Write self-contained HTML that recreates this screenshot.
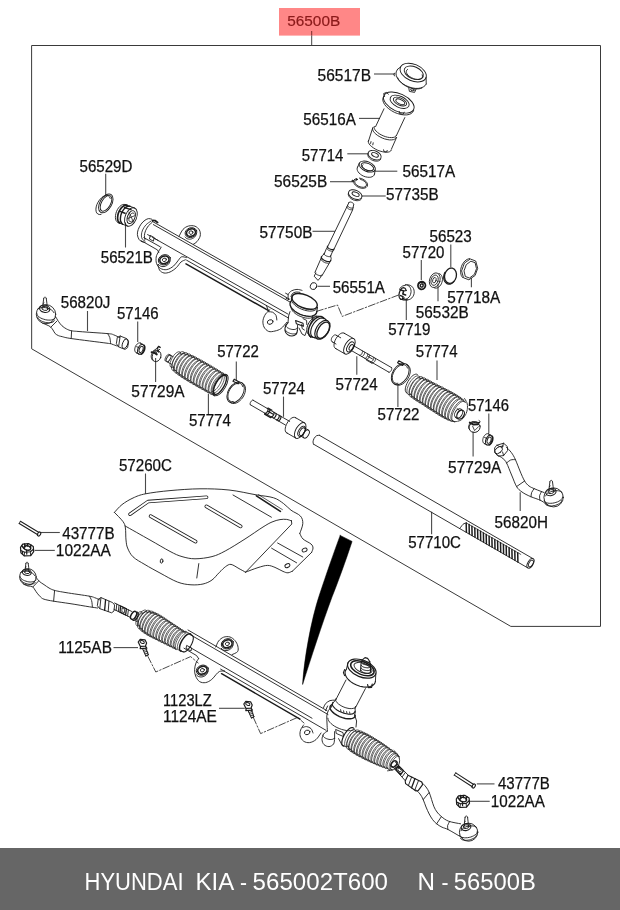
<!DOCTYPE html>
<html lang="en">
<head>
<meta charset="utf-8">
<title>HYUNDAI KIA - 565002T600 N - 56500B</title>
<style>
html,body{margin:0;padding:0;background:#fff;}
body{width:620px;height:910px;overflow:hidden;position:relative;font-family:"Liberation Sans",sans-serif;}
#dia{position:absolute;left:0;top:0;width:620px;height:910px;display:block;will-change:transform;}
#dia .ln{fill:none;stroke:#1c1c1c;stroke-width:0.9;stroke-linecap:round;stroke-linejoin:round;}
#dia .lb{font-family:"Liberation Sans",sans-serif;font-size:15.8px;fill:#111;stroke:#111;stroke-width:0.25;}
#dia .ld{fill:none;stroke:#333;stroke-width:1;}
</style>
</head>
<body>
<svg id="dia" width="620" height="910" viewBox="0 0 620 910">
<rect x="0" y="0" width="620" height="910" fill="#fff"/>
<g class="ln">
<path d="M32 45.5 L600.5 45.5 L600.5 626.4 L510.8 626.4 L32 349Z" stroke-width="1" stroke="#3a3a3a"/>
<line x1="374" y1="74" x2="395.2" y2="74" stroke-width="1.1" stroke="#4a4a4a" stroke-linecap="butt"/>
<line x1="359" y1="118.4" x2="380" y2="118.4" stroke-width="1.1" stroke="#4a4a4a" stroke-linecap="butt"/>
<line x1="347.3" y1="153.8" x2="368.2" y2="153.8" stroke-width="1.1" stroke="#4a4a4a" stroke-linecap="butt"/>
<line x1="375" y1="171.2" x2="397.3" y2="171.2" stroke-width="1.1" stroke="#4a4a4a" stroke-linecap="butt"/>
<line x1="330" y1="181.7" x2="352" y2="181.7" stroke-width="1.1" stroke="#4a4a4a" stroke-linecap="butt"/>
<line x1="361.8" y1="196" x2="385.7" y2="196" stroke-width="1.1" stroke="#4a4a4a" stroke-linecap="butt"/>
<line x1="105.7" y1="173.7" x2="105.7" y2="195" stroke-width="1.1" stroke="#4a4a4a" stroke-linecap="butt"/>
<line x1="125.5" y1="222.5" x2="125.5" y2="247.5" stroke-width="1.1" stroke="#4a4a4a" stroke-linecap="butt"/>
<line x1="312.5" y1="231.3" x2="335" y2="231.3" stroke-width="1.1" stroke="#4a4a4a" stroke-linecap="butt"/>
<line x1="317.5" y1="286.3" x2="330" y2="286.3" stroke-width="1.1" stroke="#4a4a4a" stroke-linecap="butt"/>
<line x1="421.3" y1="260" x2="421.3" y2="280" stroke-width="1.1" stroke="#4a4a4a" stroke-linecap="butt"/>
<line x1="450.8" y1="244.5" x2="450.8" y2="267.5" stroke-width="1.1" stroke="#4a4a4a" stroke-linecap="butt"/>
<line x1="471.4" y1="278" x2="471.4" y2="287.3" stroke-width="1.1" stroke="#4a4a4a" stroke-linecap="butt"/>
<line x1="438" y1="283.8" x2="438" y2="301.3" stroke-width="1.1" stroke="#4a4a4a" stroke-linecap="butt"/>
<line x1="406.3" y1="298.8" x2="406.3" y2="320" stroke-width="1.1" stroke="#4a4a4a" stroke-linecap="butt"/>
<line x1="437" y1="360.4" x2="437" y2="380" stroke-width="1.1" stroke="#4a4a4a" stroke-linecap="butt"/>
<line x1="87.5" y1="311" x2="87.5" y2="331" stroke-width="1.1" stroke="#4a4a4a" stroke-linecap="butt"/>
<line x1="137.7" y1="321.6" x2="137.7" y2="342" stroke-width="1.1" stroke="#4a4a4a" stroke-linecap="butt"/>
<line x1="155.6" y1="358" x2="155.6" y2="382" stroke-width="1.1" stroke="#4a4a4a" stroke-linecap="butt"/>
<line x1="236.3" y1="361.5" x2="236.3" y2="380" stroke-width="1.1" stroke="#4a4a4a" stroke-linecap="butt"/>
<line x1="208.4" y1="393.7" x2="208.4" y2="413.9" stroke-width="1.1" stroke="#4a4a4a" stroke-linecap="butt"/>
<line x1="283.5" y1="396.6" x2="283.5" y2="416.8" stroke-width="1.1" stroke="#4a4a4a" stroke-linecap="butt"/>
<line x1="356.8" y1="356.3" x2="356.8" y2="374.8" stroke-width="1.1" stroke="#4a4a4a" stroke-linecap="butt"/>
<line x1="397.9" y1="385.3" x2="397.9" y2="407" stroke-width="1.1" stroke="#4a4a4a" stroke-linecap="butt"/>
<line x1="488.8" y1="413.6" x2="488.8" y2="433.5" stroke-width="1.1" stroke="#4a4a4a" stroke-linecap="butt"/>
<line x1="473.1" y1="431.4" x2="473.1" y2="456.6" stroke-width="1.1" stroke="#4a4a4a" stroke-linecap="butt"/>
<line x1="520.2" y1="492.2" x2="520.2" y2="511.1" stroke-width="1.1" stroke="#4a4a4a" stroke-linecap="butt"/>
<line x1="431.6" y1="511.8" x2="431.6" y2="534.3" stroke-width="1.1" stroke="#4a4a4a" stroke-linecap="butt"/>
<line x1="145.5" y1="473.5" x2="145.5" y2="493.9" stroke-width="1.1" stroke="#4a4a4a" stroke-linecap="butt"/>
<line x1="40" y1="532.5" x2="59.8" y2="532.5" stroke-width="1.1" stroke="#4a4a4a" stroke-linecap="butt"/>
<line x1="34.6" y1="550.4" x2="54.8" y2="550.4" stroke-width="1.1" stroke="#4a4a4a" stroke-linecap="butt"/>
<line x1="113.5" y1="647.6" x2="138" y2="647.6" stroke-width="1.1" stroke="#4a4a4a" stroke-linecap="butt"/>
<line x1="219" y1="708.3" x2="244.8" y2="708.3" stroke-width="1.1" stroke="#4a4a4a" stroke-linecap="butt"/>
<line x1="476.8" y1="783.9" x2="494.5" y2="783.9" stroke-width="1.1" stroke="#4a4a4a" stroke-linecap="butt"/>
<line x1="467.7" y1="801.3" x2="489.7" y2="801.3" stroke-width="1.1" stroke="#4a4a4a" stroke-linecap="butt"/>
<path d="M340.2 535.4 L352.1 541.4 C346 560 338 582 332 597 C322 624 311 658 302.6 684.5 C304 660 311 620 319.4 595 C326 575 334 552 340.2 535.4Z" fill="#000" stroke="#000" stroke-width="0.5"/>
<ellipse cx="413.2" cy="72.6" rx="13.8" ry="8.3" transform="rotate(23 413.2 72.6)"/>
<ellipse cx="413.8" cy="72.8" rx="10.2" ry="6" transform="rotate(23 413.8 72.8)"/>
<path d="M422.2 74.8 L422.5 76.1 L422.4 77.3 L421.7 78.2 L420.6 78.9 L419.1 79.3 L417.3 79.4 L415.3 79.1 L413.3 78.5 L411.3 77.6 L409.6 76.5 L408.1 75.3 L407 73.9 L406.4 72.6 L406.3 71.3 L406.7 70.2 L407.6 69.4"/>
<path d="M426.2 84 L425 85.7 L423.2 87 L420.9 87.9 L418.2 88.4 L415.2 88.4 L412 87.9 L408.9 86.9 L405.8 85.6 L403 83.9 L400.5 81.9 L398.5 79.8 L397 77.5 L396.2 75.2 L396 73 L396.5 71.1 L397.6 69.3"/>
<path d="M421.9 88 L420.5 88.5 L419 88.8 L417.3 88.9 L415.5 88.9 L413.6 88.7 L411.7 88.3 L409.9 87.8 L408 87.1 L406.2 86.2 L404.5 85.2 L402.9 84.2 L401.5 83 L400.2 81.7 L399.2 80.4 L398.3 79 L397.7 77.7"/>
<line x1="400.6" y1="66.9" x2="397.6" y2="69.3"/>
<line x1="426.1" y1="77.3" x2="426.2" y2="84"/>
<path d="M408.8 88 L409.4 91.4 L414.6 92.4 L416 89.2"/>
<ellipse cx="412.4" cy="89.8" rx="1.8" ry="0.9" transform="rotate(10 412.4 89.8)"/>
<path d="M394.4 73.2 L393.8 74.6 L394.6 76"/>
<ellipse cx="398.8" cy="102.6" rx="16.4" ry="8.8" transform="rotate(25 398.8 102.6)"/>
<path d="M413.6 110.5 L412.8 112.1 L411.3 113.5 L409.3 114.4 L406.8 114.9 L404 114.9 L400.9 114.5 L397.7 113.6 L394.5 112.4 L391.5 110.7 L388.8 108.8 L386.4 106.7 L384.6 104.5 L383.4 102.3 L382.8 100.2 L382.9 98.2 L383.6 96.5"/>
<ellipse cx="399.6" cy="101.8" rx="10.2" ry="5.6" transform="rotate(25 399.6 101.8)"/>
<ellipse cx="400" cy="101.6" rx="7.2" ry="3.6" transform="rotate(25 400 101.6)"/>
<ellipse cx="400.3" cy="101.8" rx="4.8" ry="2.2" transform="rotate(25 400.3 101.8)"/>
<path d="M384.6 96.6 L383.6 93.6 L386.4 92.4 L388.4 94.2"/>
<path d="M399.2 111.4 L399.6 113.6 L403.2 114.2 L404.2 112.2"/>
<line x1="384" y1="108.8" x2="375.6" y2="126.6"/>
<line x1="404.8" y1="117.6" x2="396.4" y2="135.6"/>
<path d="M396.1 135.6 L395.5 136.5 L394.5 137.1 L393.1 137.5 L391.4 137.6 L389.5 137.5 L387.5 137.2 L385.3 136.6 L383.2 135.8 L381.1 134.8 L379.2 133.7 L377.5 132.4 L376.1 131.1 L375 129.8 L374.4 128.6 L374.2 127.4 L374.3 126.4"/>
<path d="M396.1 137.3 L395.7 138.3 L394.7 139.1 L393.3 139.7 L391.5 139.9 L389.4 139.9 L387.1 139.5 L384.6 138.9 L382.2 138 L379.9 136.8 L377.7 135.5 L375.9 134.1 L374.4 132.7 L373.3 131.2 L372.7 129.8 L372.6 128.5 L373 127.4"/>
<line x1="372.6" y1="128.2" x2="368.4" y2="141.4"/>
<line x1="396.6" y1="137.4" x2="391.4" y2="149.2"/>
<path d="M391.3 150.1 L390.7 151 L389.6 151.7 L388.2 152.1 L386.5 152.2 L384.5 152.1 L382.3 151.7 L380.1 151.1 L377.8 150.3 L375.6 149.2 L373.6 148 L371.8 146.7 L370.3 145.4 L369.2 144 L368.5 142.7 L368.3 141.5 L368.5 140.5"/>
<path d="M371 141.6 L370.6 143.4"/>
<path d="M373.2 142.8 L372.8 144.8"/>
<path d="M383.6 149.8 L384 151.6 L386.6 152 L387.2 150.4"/>
<ellipse cx="374.6" cy="155.2" rx="6.9" ry="4.3" transform="rotate(23 374.6 155.2)"/>
<path d="M380.8 159.1 L380.3 159.8 L379.6 160.4 L378.7 160.8 L377.7 161.1 L376.5 161.2 L375.3 161.1 L374 160.8 L372.7 160.4 L371.5 159.8 L370.4 159 L369.5 158.2 L368.7 157.3 L368.2 156.4 L367.9 155.4 L367.8 154.5 L368 153.7"/>
<ellipse cx="375" cy="154.8" rx="3.6" ry="1.9" transform="rotate(23 375 154.8)"/>
<ellipse cx="367.2" cy="166.6" rx="8.6" ry="4.8" transform="rotate(23 367.2 166.6)"/>
<ellipse cx="367.4" cy="166.8" rx="6.6" ry="3.4" transform="rotate(23 367.4 166.8)"/>
<path d="M372.8 169.8 L372.4 170.3 L371.8 170.6 L371.1 170.8 L370.1 170.8 L369.1 170.7 L368 170.5 L366.8 170.1 L365.7 169.6 L364.7 169 L363.8 168.3 L363.1 167.6 L362.6 166.9 L362.4 166.2 L362.4 165.6 L362.6 165.1 L363.1 164.7"/>
<path d="M374.5 174.1 L374.1 175.2 L373.3 176.1 L372.2 176.7 L370.8 177.2 L369.2 177.3 L367.4 177.2 L365.5 176.8 L363.7 176.2 L361.9 175.3 L360.4 174.2 L359 173 L358 171.7 L357.4 170.4 L357.1 169.2 L357.2 168 L357.7 166.9"/>
<line x1="359.3" y1="163.2" x2="357.7" y2="166.9"/>
<line x1="375.1" y1="170" x2="374.5" y2="174.1"/>
<path d="M359.4 178.1 L361.8 178.7 L364.1 179.9 L366 181.4 L367.2 183.1 L367.6 184.9 L367.2 186.4 L366 187.6 L364.1 188.2 L361.8 188.3 L359.4 187.7 L357.1 186.5 L355.2 185 L354 183.3 L353.6 181.5 L354 180 L355.2 178.8"/>
<path d="M360.5 179.4 L362.4 180.1 L364.1 181.1 L365.4 182.3 L366.2 183.6 L366.5 184.9 L366.1 186 L365.1 186.8 L363.6 187.3 L361.9 187.2 L360 186.8 L358.1 186 L356.5 184.9 L355.4 183.6 L354.8 182.2 L354.8 181 L355.5 180"/>
<ellipse cx="356.6" cy="179.4" rx="0.8" ry="0.8" fill="#222"/>
<ellipse cx="352.6" cy="181" rx="0.8" ry="0.8" fill="#222"/>
<ellipse cx="355.2" cy="194.6" rx="7.1" ry="4.4" transform="rotate(23 355.2 194.6)"/>
<path d="M361.5 198.6 L361.1 199.3 L360.4 199.9 L359.5 200.4 L358.4 200.6 L357.2 200.7 L355.9 200.6 L354.6 200.3 L353.3 199.9 L352 199.2 L350.9 198.5 L349.9 197.6 L349.2 196.7 L348.6 195.7 L348.3 194.8 L348.3 193.9 L348.5 193"/>
<ellipse cx="355.6" cy="194.2" rx="3.8" ry="1.9" transform="rotate(23 355.6 194.2)"/>
<path d="M349 202.4 L347 206.6 L327.4 247.2"/>
<path d="M353.6 205 L352.6 210 L334 249.2"/>
<path d="M348.9 202.6 L349.1 202.4 L349.3 202.2 L349.6 202.1 L350 202 L350.4 202 L350.9 202.1 L351.3 202.2 L351.8 202.4 L352.3 202.6 L352.7 202.9 L353.1 203.2 L353.4 203.5 L353.6 203.8 L353.7 204.1 L353.7 204.4 L353.7 204.6"/>
<path d="M352.7 209.2 L352.5 209.4 L352.2 209.6 L351.9 209.7 L351.4 209.8 L350.9 209.7 L350.4 209.7 L349.8 209.5 L349.3 209.3 L348.7 209 L348.2 208.7 L347.8 208.4 L347.4 208.1 L347.1 207.7 L347 207.4 L346.9 207.1 L346.9 206.8"/>
<path d="M353.2 207.6 L353 207.8 L352.7 208 L352.4 208.1 L352 208.1 L351.5 208.1 L351 208 L350.4 207.9 L349.9 207.7 L349.3 207.4 L348.8 207.1 L348.4 206.8 L348.1 206.5 L347.8 206.1 L347.6 205.8 L347.6 205.5 L347.6 205.2"/>
<path d="M334.1 248.9 L333.9 249.2 L333.6 249.4 L333.2 249.6 L332.7 249.6 L332.1 249.6 L331.5 249.5 L330.8 249.3 L330.1 249.1 L329.4 248.8 L328.8 248.4 L328.3 248 L327.8 247.6 L327.5 247.1 L327.4 246.7 L327.3 246.4 L327.5 246.1" stroke-width="1.1"/>
<path d="M333.6 250.5 L333.4 250.8 L333.1 251 L332.7 251.2 L332.2 251.2 L331.6 251.2 L331 251.1 L330.3 250.9 L329.6 250.7 L328.9 250.4 L328.3 250 L327.8 249.6 L327.3 249.2 L327 248.7 L326.9 248.3 L326.8 248 L327 247.7"/>
<path d="M326.4 248.6 L324.2 254"/>
<path d="M333 250.6 L330.6 256"/>
<path d="M330.7 255.9 L330.5 256.2 L330.2 256.4 L329.8 256.6 L329.3 256.6 L328.7 256.6 L328.1 256.5 L327.4 256.3 L326.7 256.1 L326 255.8 L325.4 255.4 L324.9 255 L324.4 254.6 L324.1 254.1 L324 253.7 L323.9 253.4 L324.1 253.1"/>
<path d="M324.2 254 L322.2 255.6 L321.4 257.6"/>
<path d="M330.6 256 L331.2 258.6 L330.6 261"/>
<path d="M330.7 260.6 L330.5 261 L330.1 261.3 L329.5 261.5 L328.8 261.5 L328 261.5 L327.1 261.4 L326.1 261.1 L325.2 260.7 L324.2 260.3 L323.4 259.8 L322.7 259.2 L322.1 258.7 L321.6 258.1 L321.4 257.6 L321.3 257.1 L321.5 256.7" stroke-width="1.2"/>
<path d="M329.7 262.2 L329.5 262.6 L329.2 262.9 L328.6 263.1 L328 263.2 L327.2 263.1 L326.4 263 L325.5 262.8 L324.6 262.4 L323.8 262 L323 261.6 L322.3 261 L321.8 260.5 L321.4 260 L321.1 259.5 L321.1 259 L321.2 258.6"/>
<path d="M321.4 257.6 L315.2 271.8"/>
<path d="M329.6 262.6 L321.8 276"/>
<path d="M321.9 274.9 L321.8 275.2 L321.5 275.4 L321.1 275.6 L320.6 275.7 L320 275.6 L319.3 275.5 L318.6 275.3 L317.9 275.1 L317.2 274.7 L316.6 274.4 L316 274 L315.6 273.5 L315.3 273.1 L315.1 272.7 L315 272.3 L315.2 272"/>
<path d="M315.8 273 L314.2 276.2 L318 280.4 L320.6 277.4 L321 275.6"/>
<ellipse cx="313.5" cy="286.1" rx="3.1" ry="3.5" transform="rotate(20 313.5 286.1)"/>
<ellipse cx="105.8" cy="203.4" rx="5.9" ry="10.3" transform="rotate(30 105.8 203.4)"/>
<ellipse cx="106" cy="203.3" rx="4.5" ry="8.7" transform="rotate(30 106 203.3)"/>
<path d="M101 214.4 L99.3 214.5 L97.8 214 L96.7 212.9 L96.1 211.3 L95.9 209.2 L96.2 206.9 L96.9 204.5 L98.1 202.1 L99.6 199.8 L101.3 198 L103.2 196.5 L105.1 195.7 L106.8 195.4 L108.3 195.8 L109.5 196.8 L110.2 198.4"/>
<ellipse cx="130.9" cy="217" rx="5.7" ry="9.7" transform="rotate(22 130.9 217)"/>
<ellipse cx="131.2" cy="217.1" rx="3.7" ry="6.8" transform="rotate(22 131.2 217.1)"/>
<path d="M131.2 221.4 L130.5 221.6 L129.9 221.6 L129.4 221.2 L129 220.6 L128.9 219.7 L128.9 218.7 L129.1 217.6 L129.5 216.4 L130 215.4 L130.6 214.4 L131.3 213.7 L132 213.2 L132.7 213 L133.3 213 L133.8 213.4 L134.2 214"/>
<line x1="129" y1="212" x2="133.4" y2="222" stroke-width="0.8"/>
<line x1="127.6" y1="218.6" x2="135" y2="215.6" stroke-width="0.8"/>
<path d="M119.1 222.8 L117.9 222.5 L116.9 221.7 L116.1 220.6 L115.6 219.1 L115.4 217.4 L115.5 215.5 L115.9 213.5 L116.5 211.5 L117.4 209.6 L118.5 207.9 L119.8 206.4 L121.2 205.3 L122.6 204.6 L123.9 204.4 L125.2 204.5 L126.3 205.1"/>
<path d="M119.9 223.2 L119.1 222.5 L118.4 221.5 L117.9 220.3 L117.6 218.9 L117.6 217.3 L117.8 215.7 L118.1 214 L118.7 212.3 L119.5 210.6 L120.4 209.2 L121.4 207.8 L122.6 206.7 L123.7 205.9 L124.9 205.4 L126.1 205.2 L127.2 205.3" stroke-width="1.7"/>
<path d="M122.7 224.2 L121.9 223.5 L121.2 222.5 L120.7 221.3 L120.4 219.9 L120.4 218.3 L120.6 216.7 L120.9 215 L121.5 213.3 L122.3 211.6 L123.2 210.2 L124.2 208.8 L125.4 207.7 L126.5 206.9 L127.7 206.4 L128.9 206.2 L130 206.3" stroke-width="1.4"/>
<line x1="134.5" y1="208" x2="125.4" y2="204.6"/>
<line x1="127.3" y1="226" x2="118.2" y2="222.6"/>
<line x1="124.6" y1="207.6" x2="131" y2="209.6" stroke-width="1.5"/>
<line x1="120.6" y1="211.6" x2="125" y2="213.2" stroke-width="1.5"/>
<path d="M151.6 219.2 C151.1 219.1 149.7 218.4 148.6 218.6 C147.5 218.8 146.3 219.3 145 220.2 C143.7 221.1 142.1 222.6 141 224.2 C139.9 225.8 138.8 227.9 138.2 229.6 C137.6 231.3 137.3 233 137.4 234.6 C137.5 236.2 138.2 238.2 139 239.4 C139.8 240.6 141 241.3 142 241.8 C143 242.3 144.5 242.1 145 242.2"/>
<path d="M150.8 221.2 C150 221.8 147.4 223.3 146 224.8 C144.6 226.3 143.4 228.3 142.6 230 C141.8 231.7 141.5 233.5 141.4 235 C141.3 236.5 141.6 238 142.2 239 C142.8 240 144.5 240.7 145 241" stroke-width="0.8"/>
<path d="M152.2 222.4 C151.6 223 149.5 224.4 148.4 225.8 C147.3 227.2 146.3 229 145.6 230.6 C144.9 232.2 144.5 234.1 144.4 235.6 C144.3 237.1 144.9 238.9 145 239.6"/>
<path d="M152.6 220.4 L155 220.6 L157.6 222.4" stroke-width="1.8"/>
<line x1="152" y1="221.2" x2="289.6" y2="299.2"/>
<line x1="153.4" y1="224.6" x2="291" y2="302.6"/>
<line x1="152" y1="237" x2="288" y2="314.1"/>
<line x1="186.6" y1="260.2" x2="288.6" y2="318.1"/>
<line x1="186" y1="263.9" x2="268.6" y2="310.7" stroke-width="1.5"/>
<path d="M150.6 235.6 L154.2 237.6 L153.4 241.2 L149.8 239.2Z"/>
<line x1="147.6" y1="234.6" x2="150.6" y2="236.2"/>
<line x1="154.2" y1="238.2" x2="158" y2="240.4"/>
<path d="M141 240.6 L146 243.4 L157.6 250 L158.8 252.6"/>
<path d="M143.8 237.6 L156 244.4 L160.2 246.8"/>
<path d="M179 236.4 C179.7 235.2 181.4 231.1 183 229.4 C184.6 227.7 186.6 226.5 188.6 226 C190.6 225.5 193.2 225.5 195 226.2 C196.8 226.9 198.5 228.4 199.4 230 C200.3 231.6 200.6 234.1 200.2 236 C199.8 237.9 198.1 240.2 197 241.6 C195.9 243 194 243.8 193.4 244.2"/>
<ellipse cx="191" cy="232.6" rx="6" ry="4.8" transform="rotate(-20 191 232.6)"/>
<ellipse cx="191" cy="232.6" rx="4.6" ry="3.6" transform="rotate(-20 191 232.6)" stroke-width="1.6"/>
<ellipse cx="191" cy="232.6" rx="2" ry="1.7" transform="rotate(-20 191 232.6)"/>
<path d="M196.3 233.8 L196.1 234.6 L195.8 235.4 L195.4 236.2 L194.8 236.9 L194.1 237.5 L193.3 238.1 L192.5 238.5 L191.5 238.9 L190.6 239.1 L189.6 239.2 L188.7 239.1 L187.8 238.9 L187 238.6 L186.2 238.2 L185.6 237.6 L185.1 237"/>
<path d="M161.2 247.2 C160.8 247.9 159.4 250 158.6 251.6 C157.8 253.2 156.5 255 156.2 257 C155.9 259 155.9 261.7 156.6 263.6 C157.3 265.5 158.7 267.4 160.4 268.4 C162.1 269.4 164.6 270 166.8 269.6 C169 269.2 171.7 267.6 173.6 266 C175.5 264.4 177.1 261.7 178.4 260.2 C179.7 258.7 180.3 257.2 181.6 256.8 C182.9 256.4 185.6 257.5 186.4 257.6"/>
<ellipse cx="164.4" cy="259.8" rx="6.2" ry="5" transform="rotate(-20 164.4 259.8)"/>
<ellipse cx="164.4" cy="259.8" rx="4.7" ry="3.7" transform="rotate(-20 164.4 259.8)" stroke-width="1.6"/>
<ellipse cx="164.4" cy="259.8" rx="2" ry="1.7" transform="rotate(-20 164.4 259.8)"/>
<path d="M169.9 261 L169.7 261.9 L169.4 262.7 L169 263.5 L168.4 264.2 L167.7 264.9 L166.8 265.5 L165.9 265.9 L165 266.3 L164 266.5 L163 266.6 L162 266.5 L161.1 266.3 L160.3 266 L159.5 265.5 L158.9 265 L158.4 264.3"/>
<path d="M158 264.6 C158.3 265.5 158.6 268.8 159.6 270.2 C160.6 271.6 162.3 272.7 164 273 C165.7 273.3 167.9 272.9 170 272 C172.1 271.1 174.6 269.3 176.4 267.6 C178.2 265.9 179.5 263.3 181 262 C182.5 260.7 184.7 260.2 185.4 259.8"/>
<ellipse cx="304.6" cy="301.4" rx="13.4" ry="6.6" transform="rotate(22 304.6 301.4)" stroke-width="1.4"/>
<path d="M317.4 307.4 L316.8 308.7 L315.7 309.8 L314.1 310.6 L312.1 311 L309.7 311.1 L307.2 310.8 L304.5 310.2 L301.8 309.3 L299.2 308.1 L296.8 306.7 L294.8 305.1 L293.2 303.4 L292.1 301.7 L291.4 300 L291.4 298.4 L291.9 297.1"/>
<path d="M316.9 311.4 L316.5 313 L315.5 314.4 L313.9 315.5 L311.7 316.1 L309.1 316.3 L306.2 316 L303.2 315.4 L300.2 314.3 L297.3 312.9 L294.8 311.2 L292.7 309.3 L291.1 307.3 L290.2 305.4 L290 303.6 L290.4 301.9 L291.5 300.6" stroke-width="1.3"/>
<path d="M313.2 317.1 L312 317.6 L310.7 318 L309.2 318.2 L307.5 318.2 L305.7 318 L303.8 317.6 L302 317 L300.1 316.3 L298.3 315.5 L296.6 314.5 L295.1 313.4 L293.8 312.3 L292.7 311.1 L291.9 309.9 L291.4 308.7 L291.1 307.6" stroke-width="0.9"/>
<path d="M291.9 297.1 L291.5 300.6"/>
<path d="M317.4 307.4 L316.9 311.4"/>
<path d="M288.6 299.6 C288.5 298.8 287.7 296.1 288.2 294.6 C288.7 293.1 290.1 291.7 291.6 290.8 C293.1 289.9 295.3 289.5 297 289.4 C298.7 289.3 301.2 290.2 302 290.4"/>
<path d="M291 296.6 C291.2 296.1 291.6 294.4 292.4 293.6 C293.2 292.8 294.7 292.2 296 292 C297.3 291.8 299.3 292.3 300 292.4"/>
<path d="M288.6 299.6 L286 298.2"/>
<path d="M288.2 294.6 L285.6 293.2"/>
<path d="M290 311.6 L288.6 316 L288 322.6"/>
<path d="M312.6 316.2 L312 319"/>
<path d="M288 322.6 C287.6 323.2 286.1 324.7 285.6 326 C285.1 327.3 284.7 329.2 285 330.6 C285.3 332 286.4 333.7 287.6 334.6 C288.8 335.5 290.6 336 292 336 C293.4 336 295.1 335.3 296 334.4 C296.9 333.5 297.2 331.2 297.4 330.6" stroke-width="1.1"/>
<path d="M296.6 332.9 L296.2 333.3 L295.7 333.6 L295.1 333.8 L294.3 333.9 L293.4 333.9 L292.5 333.9 L291.5 333.7 L290.5 333.5 L289.6 333.2 L288.7 332.8 L287.8 332.4 L287.1 332 L286.5 331.5 L286 331 L285.7 330.4 L285.6 330"/>
<path d="M297.4 330.6 L297.6 325"/>
<path d="M297 328.1 L296.8 328.6 L296.3 328.9 L295.7 329.2 L294.9 329.4 L294 329.5 L292.9 329.5 L291.8 329.4 L290.7 329.1 L289.6 328.8 L288.6 328.3 L287.7 327.9 L287 327.3 L286.4 326.7 L286 326.2 L285.8 325.6 L285.8 325.1"/>
<path d="M295.6 320.6 L303 323.2 L303.4 326.2 L296.4 323.8Z" stroke-width="1.1"/>
<path d="M303 318.6 L306.6 320.4 L306.8 324.6"/>
<path d="M299 328 L302 334 L305 335.6 L306.4 331.6"/>
<path d="M301.6 324.6 L302.2 328.6 L304.4 330"/>
<ellipse cx="322.4" cy="329.8" rx="6.2" ry="10.4" transform="rotate(32 322.4 329.8)" stroke-width="1.2"/>
<ellipse cx="323.2" cy="330.2" rx="5" ry="9" transform="rotate(32 323.2 330.2)" stroke-width="1.3"/>
<path d="M315 337.7 L313.4 337.4 L312.1 336.6 L311.2 335.3 L310.7 333.5 L310.7 331.4 L311.1 329.1 L311.9 326.7 L313.2 324.4 L314.7 322.3 L316.5 320.5 L318.4 319.1 L320.3 318.2 L322.1 317.9 L323.7 318.1 L325 318.9 L325.9 320.2" stroke-width="1.1"/>
<path d="M312.2 337 L310.7 336.6 L309.6 335.6 L308.8 334.2 L308.4 332.3 L308.4 330.2 L308.9 327.9 L309.8 325.6 L311 323.3 L312.5 321.2 L314.3 319.4 L316.1 318 L318 317 L319.8 316.6 L321.4 316.6 L322.8 317.3 L323.9 318.4" stroke-width="1.5"/>
<path d="M308.5 334.5 L307.7 333.5 L307.2 332.4 L306.8 331 L306.8 329.4 L307 327.7 L307.5 325.9 L308.2 324.1 L309.2 322.4 L310.3 320.8 L311.6 319.4 L313 318.2 L314.4 317.2 L315.8 316.6 L317.2 316.2 L318.5 316.2 L319.7 316.5" stroke-width="1.0"/>
<line x1="327.9" y1="321" x2="322.6" y2="317.1"/>
<line x1="316.9" y1="338.6" x2="310.6" y2="336.5"/>
<path d="M316 315.6 L313 318.6 L310.6 324"/>
<path d="M309 335.6 L310.6 337.6"/>
<path d="M270 309.6 C269.3 310.3 266.8 312.2 265.6 314 C264.4 315.8 263.3 318.2 263 320.4 C262.7 322.6 263.1 325.2 264 327 C264.9 328.8 266.8 330.7 268.6 331.4 C270.4 332.1 272.9 331.5 275 331 C277.1 330.5 279.1 330 281 328.6 C282.9 327.2 285.7 323.4 286.6 322.4"/>
<ellipse cx="270.2" cy="322" rx="2.9" ry="2.2" transform="rotate(-20 270.2 322)"/>
<path d="M268.6 311.8 C269.3 311.9 271.4 311.6 272.6 312.2 C273.8 312.8 275.3 314.1 276 315.4 C276.7 316.7 276.7 319.2 276.8 320"/>
<line x1="268.6" y1="311" x2="266.4" y2="305.6"/>
<path d="M316.4 311.4 L337.5 305 L342.2 316.4 L398.6 295" stroke-width="0.8" stroke-dasharray="7 2 1.5 2"/>
<path d="M407.2 284.9 L408.7 284.9 L410.2 285.4 L411.5 286.1 L412.6 287.2 L413.5 288.6 L414 290.1 L414.2 291.8 L414.1 293.5 L413.7 295.1 L412.9 296.6 L411.9 297.9 L410.6 298.9 L409.2 299.6 L407.7 299.9 L406.1 299.9 L404.7 299.5"/>
<path d="M405.5 284.7 L406.8 284.8 L407.9 285.3 L409 286.1 L409.9 287.1 L410.5 288.4 L410.9 289.8 L411.1 291.4 L410.9 292.9 L410.5 294.4 L409.9 295.9 L409 297.1 L407.9 298.1 L406.8 298.8 L405.5 299.2 L404.2 299.3 L403 299.1"/>
<path d="M406 285 L402.6 286 L399.8 288.4"/>
<path d="M407.6 299.8 L403.6 300.2 L400.4 299"/>
<path d="M404.2 298 L403.1 299 L402.1 299.4 L401 299.4 L400.1 298.8 L399.4 297.7 L399.1 296.3 L399 294.6 L399.3 292.8 L399.9 291.1 L400.7 289.6 L401.7 288.5 L402.8 287.8 L403.9 287.7 L404.9 288.2 L405.6 289.1 L406.1 290.5" stroke-width="1.2"/>
<path d="M400 289.6 L403.6 291 L402.8 294 L405.6 295" stroke-width="1.5"/>
<path d="M400.6 295.6 L403 296.6 L402.6 299" stroke-width="1.5"/>
<path d="M403.6 291 L406.4 290.6" stroke-width="1.0"/>
<ellipse cx="421.7" cy="285.5" rx="3.7" ry="3.8" transform="rotate(20 421.7 285.5)" stroke-width="1.8"/>
<ellipse cx="421.7" cy="285.5" rx="1.5" ry="1.6" transform="rotate(20 421.7 285.5)" stroke-width="1.4"/>
<path d="M418.4 283.6 L421 282 L424.6 283" stroke-width="1.3"/>
<ellipse cx="434.8" cy="280.2" rx="5.2" ry="7.5" transform="rotate(18 434.8 280.2)" stroke-width="0.8"/>
<path d="M438.9 273.6 L439.9 273.9 L440.8 274.6 L441.5 275.5 L442 276.6 L442.4 278 L442.5 279.4 L442.3 280.9 L441.9 282.4 L441.4 283.8 L440.6 285.1 L439.7 286.3 L438.6 287.1 L437.5 287.8 L436.4 288.1 L435.3 288.1 L434.3 287.8"/>
<ellipse cx="434.6" cy="280.2" rx="3.5" ry="5.3" transform="rotate(18 434.6 280.2)" stroke-width="0.8"/>
<ellipse cx="434.4" cy="280.2" rx="1.7" ry="2.8" transform="rotate(18 434.4 280.2)" stroke-width="0.8"/>
<ellipse cx="450.5" cy="275.7" rx="5.9" ry="7.7" transform="rotate(14 450.5 275.7)" stroke-width="1.3"/>
<path d="M454.1 281.4 L453.1 282.4 L452.1 283.2 L451 283.8 L449.9 284.1 L448.7 284.1 L447.6 283.9 L446.6 283.4 L445.7 282.6 L444.9 281.7 L444.3 280.5 L443.9 279.3 L443.7 277.9 L443.7 276.4 L443.9 275 L444.4 273.6 L445 272.3" stroke-width="1.2"/>
<path d="M474.8 275.7 L468.9 279.8 L463.5 277.8 L461.6 270.9 L464.4 263.1 L470.3 259 L475.7 261 L477.6 267.9Z"/>
<path d="M474.1 274.6 L469.5 278 L465.3 276.5 L464 270.9 L466.3 264.6 L470.9 261.2 L475.1 262.7 L476.4 268.3Z"/>
<path d="M462.7 277.6 L461.9 276.6 L461.3 275.5 L460.9 274.1 L460.6 272.7 L460.6 271.2 L460.7 269.6 L461 268 L461.5 266.4 L462.1 264.9 L462.9 263.5 L463.8 262.2 L464.9 261 L466 260.1 L467.2 259.4 L468.4 258.9 L469.6 258.6"/>
<ellipse cx="46" cy="314.2" rx="9.7" ry="9.5"/>
<path d="M55.4 317.7 L54.9 318.4 L54.2 319 L53.1 319.5 L51.8 319.9 L50.4 320.1 L48.8 320.1 L47.1 320 L45.4 319.7 L43.7 319.2 L42.1 318.7 L40.7 318 L39.4 317.2 L38.4 316.4 L37.6 315.5 L37.2 314.7 L37.1 313.8"/>
<path d="M54.4 320.7 L53.9 321.3 L53.1 321.9 L52.2 322.3 L51 322.6 L49.7 322.7 L48.3 322.8 L46.9 322.6 L45.4 322.4 L43.9 322 L42.5 321.5 L41.2 320.9 L40.1 320.2 L39.2 319.5 L38.5 318.7 L38 318 L37.8 317.2"/>
<path d="M37.5 309.2 L38.2 308.7 L39.1 308.2 L40.1 307.9 L41.2 307.6 L42.4 307.5 L43.7 307.5 L45.1 307.6 L46.4 307.9 L47.7 308.2 L49 308.6 L50.2 309.2 L51.2 309.8 L52.2 310.5 L52.9 311.2 L53.5 311.9 L53.9 312.7"/>
<ellipse cx="44.7" cy="308.8" rx="5.2" ry="3.6" transform="rotate(12 44.7 308.8)" stroke-width="1.1"/>
<ellipse cx="44.9" cy="308.4" rx="3.2" ry="2" transform="rotate(12 44.9 308.4)"/>
<path d="M42.8 308.2 L43.1 303.2 L43.7 298.6"/>
<path d="M47.2 308.2 L46.9 303.2 L46.3 298.6"/>
<path d="M43.7 298.6 L43.7 298.3 L43.8 298.1 L43.9 297.8 L44.1 297.6 L44.3 297.4 L44.5 297.3 L44.7 297.2 L45 297.2 L45.3 297.2 L45.5 297.3 L45.7 297.4 L45.9 297.6 L46.1 297.8 L46.2 298.1 L46.3 298.3 L46.3 298.6"/>
<line x1="43" y1="303.6" x2="44" y2="302.8"/>
<path d="M55.6 316.6 C56.1 317.4 57.5 320.1 58.6 321.6 C59.7 323.1 60.7 324.6 62 325.8 C63.3 327 65 328.2 66.6 329 C68.2 329.8 69.4 330.4 71.6 330.8 C73.8 331.2 74 331.1 80 331.6 C86 332.1 102 333.1 107.6 333.6 C113.2 334.1 111.6 334.1 113.6 334.8 C115.6 335.5 118.6 337.1 119.6 337.6"/>
<path d="M42.6 323.2 C43.3 323.5 45.7 324.4 47 325 C48.3 325.6 49.4 326 50.4 326.8 C51.4 327.6 52.2 328.9 53 330 C53.8 331.1 54.3 332.7 55.2 333.6 C56.1 334.5 57.3 335.1 58.4 335.6 C59.5 336.1 59.8 336.1 62 336.6 C64.2 337.1 64.1 337.5 71.6 338.6 C79.1 339.7 100.3 342.3 107 343.2 C113.7 344.1 110.3 343.7 112 344.2 C113.7 344.7 116.2 345.7 117 346"/>
<line x1="50.8" y1="327.2" x2="57" y2="321"/>
<line x1="71.6" y1="330.8" x2="71.2" y2="338.6"/>
<path d="M107.6 333.6 C108 334.3 109.3 335.9 109.8 337.6 C110.3 339.3 110.5 342.6 110.6 343.6"/>
<path d="M117.6 337.4 L120.2 336 L126.6 338.6 L128.6 341.6 L127.6 347.6 L125 349.4 L118.4 346.8 L116.6 344Z"/>
<ellipse cx="125.2" cy="343.6" rx="2.6" ry="5" transform="rotate(20 125.2 343.6)"/>
<line x1="120.2" y1="336" x2="118.6" y2="346.6"/>
<ellipse cx="140.9" cy="349.3" rx="3" ry="5.2" transform="rotate(22 140.9 349.3)" stroke-width="1.1"/>
<ellipse cx="141.1" cy="349.4" rx="1.8" ry="3.3" transform="rotate(22 141.1 349.4)"/>
<path d="M136.8 352.9 L136.2 352.7 L135.6 352.3 L135.2 351.7 L134.9 350.9 L134.7 349.9 L134.8 348.9 L135 347.8 L135.3 346.7 L135.8 345.7 L136.5 344.8 L137.2 344 L137.9 343.4 L138.7 343 L139.4 342.9 L140.1 343 L140.7 343.3"/>
<line x1="142.9" y1="344.5" x2="140.3" y2="343"/>
<line x1="139" y1="354.1" x2="136.3" y2="352.8"/>
<line x1="136.6" y1="346.7" x2="139.2" y2="347.7"/>
<path d="M144.2 345.4 L144.4 345.8 L144.6 346.3 L144.8 346.8 L144.8 347.5 L144.8 348.1 L144.7 348.8 L144.6 349.5 L144.4 350.2 L144.1 350.9 L143.8 351.5 L143.4 352.2 L143 352.7 L142.5 353.2 L142.1 353.6 L141.6 354 L141.1 354.2" stroke-width="1.5"/>
<ellipse cx="156.6" cy="356.2" rx="4.3" ry="5.6" transform="rotate(20 156.6 356.2)"/>
<path d="M153.1 360.6 L152.5 360.1 L151.9 359.3 L151.5 358.5 L151.3 357.5 L151.2 356.5 L151.3 355.4 L151.6 354.3 L152.1 353.3 L152.6 352.4 L153.3 351.6 L154.1 351 L155 350.5 L155.8 350.3 L156.7 350.2 L157.5 350.4 L158.3 350.8"/>
<path d="M151.6 352.2 L154.2 352.6 L156.8 354.4" stroke-width="1.9"/>
<path d="M153 351.2 L159 346.8"/>
<path d="M155.6 353.2 L159.8 349.2"/>
<path d="M157.4 347.2 L158.4 352.2" stroke-width="1.1"/>
<path d="M158.4 346.4 L160.2 347.4" stroke-width="1.3"/>
<path d="M171.8 367.4 L170.7 367 L170.1 366 L170 364.4 L170.3 362.3 L171.1 360.1 L172.2 357.8 L173.6 355.6 L175.2 353.8 L176.8 352.5 L178.3 351.8 L179.5 351.8 L180.4 352.5" stroke-width="0.7"/>
<path d="M173.8 367.1 L172.9 366.8 L172.4 365.9 L172.2 364.5 L172.5 362.8 L173.2 360.8 L174.1 358.9 L175.4 357 L176.7 355.5 L178.1 354.4 L179.3 353.8 L180.4 353.8 L181.1 354.4" stroke-width="0.7"/>
<path d="M173.7 370.8 L172.4 370.3 L171.7 369 L171.5 367 L171.9 364.5 L172.8 361.8 L174.2 358.9 L176 356.3 L177.9 354.1 L179.9 352.5 L181.7 351.7 L183.2 351.7 L184.3 352.5" stroke-width="0.7"/>
<path d="M175.7 370.5 L174.6 370.1 L173.9 368.9 L173.8 367.2 L174.1 365 L175 362.5 L176.2 360.1 L177.7 357.7 L179.4 355.8 L181.2 354.4 L182.8 353.7 L184.1 353.7 L185 354.4" stroke-width="0.7"/>
<path d="M176.3 373.2 L175 372.7 L174.2 371.3 L174 369.2 L174.4 366.5 L175.4 363.5 L176.9 360.5 L178.8 357.6 L180.9 355.3 L183 353.6 L184.9 352.7 L186.5 352.7 L187.7 353.6" stroke-width="0.7"/>
<path d="M178.3 372.9 L177.1 372.4 L176.4 371.2 L176.2 369.3 L176.6 366.9 L177.5 364.3 L178.8 361.6 L180.5 359.1 L182.4 357 L184.2 355.5 L186 354.7 L187.4 354.7 L188.4 355.5" stroke-width="0.7"/>
<path d="M179.1 375.3 L177.7 374.7 L176.9 373.3 L176.7 371.1 L177.1 368.3 L178.1 365.2 L179.7 362.1 L181.6 359.2 L183.8 356.7 L186 354.9 L188 354 L189.7 354 L190.8 355" stroke-width="0.7"/>
<path d="M181.1 375 L179.9 374.5 L179.1 373.2 L178.9 371.2 L179.3 368.8 L180.2 366 L181.6 363.2 L183.4 360.6 L185.3 358.4 L187.2 356.8 L189 356 L190.5 356 L191.6 356.9" stroke-width="0.7"/>
<path d="M181.9 377.3 L180.5 376.7 L179.6 375.2 L179.4 373 L179.9 370.1 L180.9 366.9 L182.5 363.7 L184.5 360.7 L186.7 358.2 L189 356.4 L191 355.5 L192.7 355.5 L194 356.4" stroke-width="0.7"/>
<path d="M183.9 376.9 L182.6 376.4 L181.9 375.1 L181.7 373.1 L182.1 370.6 L183 367.7 L184.5 364.8 L186.3 362.2 L188.2 359.9 L190.2 358.3 L192.1 357.5 L193.6 357.5 L194.7 358.3" stroke-width="0.7"/>
<path d="M184.8 379.1 L183.3 378.6 L182.5 377.1 L182.2 374.8 L182.7 371.9 L183.8 368.7 L185.4 365.4 L187.4 362.3 L189.7 359.8 L191.9 357.9 L194 357 L195.8 357 L197 358" stroke-width="0.7"/>
<path d="M186.8 378.8 L185.5 378.3 L184.7 377 L184.5 374.9 L184.9 372.3 L185.9 369.4 L187.3 366.5 L189.2 363.8 L191.2 361.5 L193.2 359.8 L195.1 359 L196.6 359 L197.7 359.9" stroke-width="0.7"/>
<path d="M187.7 380.9 L186.2 380.3 L185.3 378.8 L185.1 376.5 L185.6 373.6 L186.7 370.4 L188.3 367.1 L190.4 364 L192.6 361.4 L194.9 359.6 L197 358.6 L198.8 358.6 L200 359.6" stroke-width="0.7"/>
<path d="M189.7 380.6 L188.4 380.1 L187.6 378.7 L187.4 376.7 L187.8 374.1 L188.8 371.1 L190.3 368.2 L192.1 365.4 L194.1 363.1 L196.2 361.5 L198.1 360.6 L199.6 360.6 L200.7 361.5" stroke-width="0.7"/>
<path d="M190.6 382.7 L189.1 382.1 L188.2 380.6 L188 378.3 L188.5 375.3 L189.6 372.1 L191.2 368.7 L193.3 365.6 L195.6 363 L197.9 361.2 L200 360.2 L201.8 360.2 L203 361.2" stroke-width="0.7"/>
<path d="M192.6 382.4 L191.3 381.9 L190.5 380.5 L190.3 378.4 L190.7 375.8 L191.7 372.8 L193.2 369.9 L195 367.1 L197.1 364.7 L199.1 363.1 L201 362.2 L202.6 362.2 L203.7 363.1" stroke-width="0.7"/>
<path d="M193.5 384.4 L192.1 383.8 L191.2 382.3 L190.9 380 L191.4 377 L192.5 373.8 L194.2 370.4 L196.2 367.3 L198.5 364.7 L200.8 362.9 L202.9 361.9 L204.7 361.9 L206 362.9" stroke-width="0.7"/>
<path d="M195.5 384.1 L194.2 383.6 L193.4 382.2 L193.2 380.1 L193.6 377.5 L194.6 374.5 L196.1 371.6 L198 368.8 L200 366.4 L202.1 364.8 L204 363.9 L205.6 363.9 L206.7 364.8" stroke-width="0.7"/>
<path d="M196.5 386.1 L195 385.5 L194.1 384 L193.9 381.7 L194.3 378.7 L195.5 375.5 L197.1 372.1 L199.2 369 L201.4 366.4 L203.8 364.6 L205.9 363.6 L207.7 363.6 L208.9 364.6" stroke-width="0.7"/>
<path d="M198.5 385.8 L197.2 385.3 L196.4 383.9 L196.2 381.8 L196.6 379.2 L197.6 376.2 L199.1 373.3 L200.9 370.5 L202.9 368.1 L205 366.5 L206.9 365.6 L208.5 365.6 L209.6 366.5" stroke-width="0.7"/>
<path d="M199.4 387.8 L197.9 387.2 L197.1 385.7 L196.8 383.4 L197.3 380.4 L198.4 377.2 L200.1 373.8 L202.1 370.7 L204.4 368.1 L206.7 366.3 L208.8 365.3 L210.6 365.3 L211.8 366.3" stroke-width="0.7"/>
<path d="M201.4 387.5 L200.1 387 L199.3 385.6 L199.1 383.5 L199.5 380.9 L200.5 377.9 L202 375 L203.8 372.2 L205.9 369.8 L208 368.2 L209.9 367.3 L211.5 367.3 L212.6 368.2" stroke-width="0.7"/>
<path d="M202.4 389.4 L200.9 388.8 L200.1 387.3 L199.8 385 L200.3 382.1 L201.4 378.9 L203 375.6 L205.1 372.5 L207.3 369.9 L209.6 368.1 L211.7 367.1 L213.5 367.1 L214.7 368.1" stroke-width="0.7"/>
<path d="M204.4 389.1 L203.1 388.6 L202.3 387.2 L202.1 385.2 L202.5 382.6 L203.5 379.6 L205 376.7 L206.8 373.9 L208.8 371.6 L210.9 370 L212.8 369.1 L214.4 369.1 L215.5 370" stroke-width="0.7"/>
<path d="M205.4 391.1 L203.9 390.5 L203 389 L202.8 386.7 L203.2 383.8 L204.3 380.6 L206 377.3 L208 374.2 L210.3 371.6 L212.6 369.8 L214.7 368.8 L216.4 368.8 L217.7 369.8" stroke-width="0.7"/>
<path d="M207.4 390.8 L206 390.3 L205.3 388.9 L205.1 386.9 L205.5 384.3 L206.5 381.3 L207.9 378.4 L209.8 375.6 L211.8 373.3 L213.8 371.7 L215.7 370.8 L217.3 370.8 L218.4 371.7" stroke-width="0.7"/>
<path d="M208.3 392.7 L206.9 392.2 L206 390.7 L205.8 388.4 L206.2 385.5 L207.3 382.3 L209 379 L211 375.9 L213.2 373.4 L215.5 371.5 L217.6 370.6 L219.3 370.6 L220.6 371.6" stroke-width="0.7"/>
<path d="M210.3 392.4 L209 391.9 L208.3 390.6 L208.1 388.5 L208.5 385.9 L209.4 383 L210.9 380.1 L212.7 377.4 L214.7 375.1 L216.8 373.4 L218.6 372.6 L220.2 372.6 L221.3 373.5" stroke-width="0.7"/>
<path d="M211.3 394.3 L209.9 393.8 L209 392.3 L208.8 390 L209.2 387.1 L210.3 383.9 L211.9 380.7 L213.9 377.7 L216.2 375.1 L218.4 373.3 L220.5 372.4 L222.2 372.4 L223.5 373.3" stroke-width="0.7"/>
<path d="M213.3 394 L212 393.5 L211.3 392.2 L211.1 390.2 L211.5 387.6 L212.4 384.7 L213.9 381.8 L215.7 379.1 L217.7 376.8 L219.7 375.2 L221.6 374.4 L223.1 374.4 L224.2 375.2" stroke-width="0.7"/>
<path d="M214.4 395.9 L212.9 395.3 L212.1 393.8 L211.9 391.6 L212.3 388.8 L213.4 385.6 L215 382.4 L216.9 379.5 L219.1 377 L221.3 375.2 L223.4 374.2 L225.1 374.3 L226.3 375.2" stroke-width="0.7"/>
<path d="M180.4 352.5 L181.1 354.4 L184.3 352.5 L185 354.4 L187.7 353.6 L188.4 355.5 L190.8 355 L191.6 356.9 L194 356.4 L194.7 358.3 L197 358 L197.7 359.9 L200 359.6 L200.7 361.5 L203 361.2 L203.7 363.1 L206 362.9 L206.7 364.8 L208.9 364.6 L209.6 366.5 L211.8 366.3 L212.6 368.2 L214.7 368.1 L215.5 370 L217.7 369.8 L218.4 371.7 L220.6 371.6 L221.3 373.5 L223.5 373.3 L224.2 375.2 L226.3 375.2" stroke-width="0.7"/>
<path d="M171.8 367.4 L173.8 367.1 L173.7 370.8 L175.7 370.5 L176.3 373.2 L178.3 372.9 L179.1 375.3 L181.1 375 L181.9 377.3 L183.9 376.9 L184.8 379.1 L186.8 378.8 L187.7 380.9 L189.7 380.6 L190.6 382.7 L192.6 382.4 L193.5 384.4 L195.5 384.1 L196.5 386.1 L198.5 385.8 L199.4 387.8 L201.4 387.5 L202.4 389.4 L204.4 389.1 L205.4 391.1 L207.4 390.8 L208.3 392.7 L210.3 392.4 L211.3 394.3 L213.3 394 L214.4 395.9" stroke-width="0.7"/>
<ellipse cx="168.6" cy="358.4" rx="1.7" ry="3.8" transform="rotate(30 168.6 358.4)"/>
<path d="M165.8 361.1 L165.4 361 L165.2 360.7 L165 360.2 L165 359.7 L165.1 359 L165.3 358.3 L165.6 357.6 L165.9 356.8 L166.4 356.2 L166.9 355.5 L167.4 355 L167.9 354.6 L168.4 354.4 L168.9 354.3 L169.2 354.4 L169.5 354.6"/>
<line x1="169.6" y1="354.8" x2="173" y2="356.6"/>
<line x1="167.4" y1="362" x2="171.4" y2="364.2"/>
<ellipse cx="220.6" cy="385" rx="5.2" ry="12.1" transform="rotate(30 220.6 385)"/>
<ellipse cx="220" cy="384.8" rx="4.3" ry="10.8" transform="rotate(30 220 384.8)" stroke-width="1.4"/>
<path d="M223.8 375.1 L224.1 375.9 L224.3 376.9 L224.3 378.1 L224.1 379.4 L223.8 380.9 L223.2 382.5 L222.5 384.1 L221.6 385.7 L220.7 387.2 L219.6 388.7 L218.6 389.9 L217.4 391 L216.4 391.8 L215.3 392.5 L214.4 392.8 L213.5 392.8" stroke-width="0.7"/>
<path d="M222.1 374.7 L222.3 375.5 L222.3 376.5 L222.2 377.7 L222 379 L221.6 380.3 L221 381.7 L220.4 383.1 L219.6 384.5 L218.8 385.8 L217.9 387.1 L217 388.3 L216 389.3 L215 390.1 L214.1 390.8 L213.2 391.3 L212.4 391.6" stroke-width="0.7"/>
<ellipse cx="235.6" cy="392.4" rx="7.4" ry="11.4" transform="rotate(32 235.6 392.4)"/>
<path d="M241.7 382.9 L243.1 383.6 L244.3 384.8 L245.1 386.3 L245.5 388.2 L245.5 390.3 L245 392.6 L244.2 394.8 L243.1 397 L241.6 399 L239.9 400.7 L238.1 402.1 L236.2 403 L234.3 403.5 L232.6 403.5 L231 402.9 L229.8 401.9"/>
<path d="M233.3 401.5 L231.5 401.6 L230 401.1 L228.8 399.9 L228.1 398.2 L227.9 396.2 L228.1 393.9 L228.9 391.5 L230.1 389.1 L231.7 387 L233.5 385.2 L235.5 384 L237.5 383.3 L239.3 383.2 L240.8 383.7 L242 384.9 L242.7 386.6"/>
<path d="M233 381.2 L238 383.8 L239.2 382 L234.2 379.2Z" stroke-width="1.2"/>
<path d="M409 394.6 L407.8 394.2 L407 392.9 L406.9 390.9 L407.2 388.5 L408.2 385.8 L409.5 383 L411.3 380.4 L413.2 378.2 L415.1 376.7 L416.9 375.9 L418.3 375.9 L419.4 376.7" stroke-width="0.7"/>
<path d="M411 394.3 L409.9 393.9 L409.3 392.8 L409.1 391.1 L409.5 388.9 L410.3 386.5 L411.5 384.1 L413 381.8 L414.7 379.9 L416.4 378.6 L417.9 377.9 L419.2 377.9 L420.1 378.6" stroke-width="0.7"/>
<path d="M411.5 397.2 L410.1 396.6 L409.3 395.3 L409.1 393.1 L409.5 390.4 L410.5 387.5 L412 384.4 L413.9 381.6 L416 379.2 L418.1 377.5 L420.1 376.6 L421.7 376.6 L422.8 377.5" stroke-width="0.7"/>
<path d="M413.5 396.9 L412.3 396.4 L411.6 395.2 L411.4 393.3 L411.7 390.9 L412.6 388.2 L414 385.5 L415.7 383 L417.5 380.9 L419.4 379.4 L421.1 378.6 L422.5 378.6 L423.5 379.4" stroke-width="0.7"/>
<path d="M414.2 399.2 L412.8 398.6 L411.9 397.2 L411.7 395 L412.1 392.2 L413.2 389.1 L414.8 386 L416.7 383.1 L418.9 380.6 L421 378.8 L423 377.9 L424.7 377.9 L425.9 378.9" stroke-width="0.7"/>
<path d="M416.2 398.9 L414.9 398.4 L414.2 397.1 L414 395.1 L414.4 392.7 L415.3 389.9 L416.7 387.1 L418.4 384.5 L420.4 382.3 L422.3 380.7 L424.1 379.9 L425.6 379.9 L426.6 380.8" stroke-width="0.7"/>
<path d="M416.9 401 L415.5 400.5 L414.7 399 L414.4 396.7 L414.9 393.9 L415.9 390.8 L417.5 387.6 L419.5 384.6 L421.7 382.1 L423.9 380.3 L426 379.4 L427.7 379.4 L428.9 380.3" stroke-width="0.7"/>
<path d="M418.9 400.7 L417.7 400.2 L416.9 398.9 L416.7 396.9 L417.1 394.4 L418.1 391.6 L419.5 388.7 L421.2 386.1 L423.2 383.8 L425.2 382.2 L427 381.4 L428.5 381.4 L429.6 382.2" stroke-width="0.7"/>
<path d="M419.7 402.8 L418.3 402.2 L417.5 400.7 L417.2 398.5 L417.7 395.6 L418.8 392.4 L420.4 389.2 L422.4 386.2 L424.6 383.7 L426.8 381.9 L428.9 381 L430.6 381 L431.8 381.9" stroke-width="0.7"/>
<path d="M421.8 402.4 L420.5 401.9 L419.7 400.6 L419.5 398.6 L419.9 396.1 L420.9 393.2 L422.3 390.3 L424.1 387.7 L426.1 385.4 L428.1 383.8 L429.9 383 L431.4 383 L432.5 383.8" stroke-width="0.7"/>
<path d="M422.6 404.5 L421.1 403.9 L420.3 402.4 L420 400.2 L420.5 397.3 L421.6 394.1 L423.2 390.8 L425.2 387.8 L427.4 385.3 L429.7 383.5 L431.7 382.5 L433.5 382.5 L434.7 383.5" stroke-width="0.7"/>
<path d="M424.6 404.2 L423.3 403.7 L422.5 402.3 L422.3 400.3 L422.7 397.7 L423.7 394.9 L425.1 392 L426.9 389.3 L428.9 387 L430.9 385.4 L432.8 384.5 L434.3 384.5 L435.4 385.4" stroke-width="0.7"/>
<path d="M425.3 406.3 L423.9 405.7 L423 404.2 L422.8 401.9 L423.2 399 L424.3 395.8 L426 392.5 L428 389.4 L430.3 386.8 L432.6 385 L434.7 384 L436.4 384 L437.7 385" stroke-width="0.7"/>
<path d="M427.3 406 L426 405.5 L425.2 404.1 L425 402.1 L425.5 399.5 L426.4 396.5 L427.9 393.6 L429.7 390.8 L431.8 388.5 L433.8 386.9 L435.7 386 L437.3 386 L438.4 386.9" stroke-width="0.7"/>
<path d="M428.1 408.2 L426.6 407.6 L425.7 406 L425.5 403.7 L426 400.7 L427.1 397.4 L428.7 394.1 L430.8 390.9 L433.1 388.3 L435.4 386.4 L437.6 385.5 L439.4 385.5 L440.6 386.5" stroke-width="0.7"/>
<path d="M430.1 407.8 L428.8 407.3 L428 405.9 L427.8 403.8 L428.2 401.2 L429.2 398.2 L430.7 395.2 L432.6 392.4 L434.6 390 L436.7 388.3 L438.6 387.5 L440.2 387.5 L441.4 388.4" stroke-width="0.7"/>
<path d="M430.9 410 L429.4 409.4 L428.5 407.8 L428.2 405.4 L428.7 402.4 L429.8 399.1 L431.5 395.7 L433.6 392.5 L436 389.8 L438.3 387.9 L440.5 386.9 L442.3 386.9 L443.6 388" stroke-width="0.7"/>
<path d="M432.9 409.7 L431.5 409.1 L430.7 407.7 L430.5 405.6 L430.9 402.9 L432 399.9 L433.5 396.8 L435.4 393.9 L437.5 391.5 L439.6 389.8 L441.6 388.9 L443.2 388.9 L444.3 389.8" stroke-width="0.7"/>
<path d="M433.7 411.7 L432.2 411.1 L431.3 409.5 L431 407.1 L431.5 404.1 L432.6 400.7 L434.4 397.3 L436.5 394.1 L438.8 391.4 L441.2 389.5 L443.4 388.5 L445.2 388.5 L446.5 389.5" stroke-width="0.7"/>
<path d="M435.7 411.4 L434.3 410.9 L433.5 409.4 L433.3 407.3 L433.7 404.6 L434.8 401.5 L436.3 398.4 L438.2 395.5 L440.3 393.1 L442.5 391.4 L444.5 390.5 L446.1 390.5 L447.3 391.4" stroke-width="0.7"/>
<path d="M436.5 413.5 L434.9 412.9 L434 411.3 L433.8 408.9 L434.2 405.8 L435.4 402.4 L437.1 398.9 L439.3 395.7 L441.7 392.9 L444.1 391 L446.3 390 L448.2 390 L449.5 391" stroke-width="0.7"/>
<path d="M438.5 413.2 L437.1 412.7 L436.3 411.2 L436 409 L436.5 406.3 L437.5 403.2 L439.1 400 L441 397.1 L443.2 394.6 L445.4 392.9 L447.4 392 L449 392 L450.2 392.9" stroke-width="0.7"/>
<path d="M439.3 415.3 L437.7 414.7 L436.8 413.1 L436.6 410.6 L437 407.5 L438.2 404.1 L440 400.5 L442.1 397.3 L444.5 394.5 L447 392.6 L449.2 391.5 L451.1 391.5 L452.4 392.6" stroke-width="0.7"/>
<path d="M441.3 415 L439.9 414.4 L439.1 413 L438.8 410.7 L439.3 408 L440.3 404.8 L441.9 401.7 L443.9 398.7 L446 396.2 L448.2 394.5 L450.3 393.5 L452 393.5 L453.1 394.5" stroke-width="0.7"/>
<path d="M442.1 417 L440.5 416.4 L439.6 414.8 L439.4 412.3 L439.8 409.2 L441 405.7 L442.8 402.2 L445 398.9 L447.4 396.1 L449.9 394.1 L452.1 393.1 L454 393.1 L455.3 394.2" stroke-width="0.7"/>
<path d="M444.1 416.7 L442.7 416.2 L441.8 414.7 L441.6 412.4 L442.1 409.6 L443.1 406.5 L444.7 403.3 L446.7 400.3 L448.9 397.8 L451.1 396 L453.2 395.1 L454.9 395.1 L456.1 396" stroke-width="0.7"/>
<path d="M445 418.6 L443.5 418 L442.5 416.4 L442.3 413.9 L442.8 410.8 L443.9 407.4 L445.7 403.8 L447.9 400.6 L450.3 397.8 L452.7 395.9 L454.9 394.8 L456.8 394.8 L458.1 395.9" stroke-width="0.7"/>
<path d="M447 418.3 L445.6 417.7 L444.8 416.3 L444.6 414 L445 411.3 L446 408.1 L447.6 405 L449.6 402 L451.8 399.5 L454 397.8 L456 396.8 L457.7 396.8 L458.9 397.8" stroke-width="0.7"/>
<path d="M448 420.1 L446.4 419.4 L445.5 417.9 L445.3 415.4 L445.7 412.4 L446.9 409 L448.6 405.5 L450.7 402.3 L453.1 399.6 L455.5 397.7 L457.7 396.7 L459.6 396.7 L460.9 397.7" stroke-width="0.7"/>
<path d="M450 419.8 L448.6 419.2 L447.7 417.8 L447.5 415.6 L448 412.8 L449 409.8 L450.6 406.7 L452.5 403.7 L454.6 401.3 L456.8 399.6 L458.8 398.7 L460.4 398.7 L461.6 399.6" stroke-width="0.7"/>
<path d="M451.1 421.2 L449.6 420.6 L448.7 419.1 L448.5 416.8 L448.9 413.9 L450 410.6 L451.7 407.3 L453.7 404.2 L456 401.7 L458.3 399.8 L460.4 398.8 L462.1 398.8 L463.4 399.8" stroke-width="0.7"/>
<path d="M453.1 420.9 L451.8 420.3 L451 419 L450.8 416.9 L451.2 414.3 L452.2 411.4 L453.6 408.4 L455.5 405.7 L457.5 403.4 L459.5 401.7 L461.4 400.8 L463 400.8 L464.1 401.7" stroke-width="0.7"/>
<path d="M454.2 421.8 L452.8 421.3 L452 419.9 L451.8 417.8 L452.2 415.1 L453.2 412.1 L454.7 409.1 L456.6 406.2 L458.7 403.9 L460.8 402.2 L462.8 401.3 L464.4 401.3 L465.5 402.2" stroke-width="0.7"/>
<path d="M419.4 376.7 L420.1 378.6 L422.8 377.5 L423.5 379.4 L425.9 378.9 L426.6 380.8 L428.9 380.3 L429.6 382.2 L431.8 381.9 L432.5 383.8 L434.7 383.5 L435.4 385.4 L437.7 385 L438.4 386.9 L440.6 386.5 L441.4 388.4 L443.6 388 L444.3 389.8 L446.5 389.5 L447.3 391.4 L449.5 391 L450.2 392.9 L452.4 392.6 L453.1 394.5 L455.3 394.2 L456.1 396 L458.1 395.9 L458.9 397.8 L460.9 397.7 L461.6 399.6 L463.4 399.8 L464.1 401.7 L465.5 402.2" stroke-width="0.7"/>
<path d="M409 394.6 L411 394.3 L411.5 397.2 L413.5 396.9 L414.2 399.2 L416.2 398.9 L416.9 401 L418.9 400.7 L419.7 402.8 L421.8 402.4 L422.6 404.5 L424.6 404.2 L425.3 406.3 L427.3 406 L428.1 408.2 L430.1 407.8 L430.9 410 L432.9 409.7 L433.7 411.7 L435.7 411.4 L436.5 413.5 L438.5 413.2 L439.3 415.3 L441.3 415 L442.1 417 L444.1 416.7 L445 418.6 L447 418.3 L448 420.1 L450 419.8 L451.1 421.2 L453.1 420.9 L454.2 421.8" stroke-width="0.7"/>
<path d="M406.9 392.9 L406.1 392.5 L405.6 391.6 L405.3 390.4 L405.3 388.9 L405.6 387.2 L406.2 385.3 L407 383.3 L408 381.4 L409.2 379.6 L410.4 377.9 L411.8 376.5 L413.1 375.3 L414.4 374.6 L415.6 374.2 L416.6 374.2 L417.4 374.6"/>
<path d="M464.6 398.6 C465 399.3 466.5 401.3 467 403 C467.5 404.7 467.6 406.7 467.4 408.6 C467.2 410.5 466.6 412.8 465.6 414.6 C464.6 416.4 463.2 418.4 461.6 419.6 C460 420.8 457.6 421.4 456 421.6 C454.4 421.8 452.7 421.1 452 421" stroke-dasharray="3 1"/>
<ellipse cx="458.6" cy="413.4" rx="3.6" ry="5" transform="rotate(30 458.6 413.4)"/>
<ellipse cx="460.6" cy="414.6" rx="3.4" ry="4.8" transform="rotate(30 460.6 414.6)" stroke-width="1.3"/>
<line x1="457.2" y1="408.8" x2="459.2" y2="410"/>
<line x1="455.6" y1="417.6" x2="458" y2="419"/>
<ellipse cx="400.2" cy="374" rx="7.6" ry="11.6" transform="rotate(32 400.2 374)"/>
<path d="M406.3 364.3 L407.8 365 L409 366.2 L409.8 367.8 L410.3 369.8 L410.3 371.9 L409.8 374.2 L409 376.5 L407.8 378.7 L406.4 380.8 L404.6 382.5 L402.8 383.9 L400.8 384.8 L398.9 385.3 L397.1 385.2 L395.5 384.7 L394.2 383.7"/>
<path d="M397.9 383.3 L396.1 383.4 L394.5 382.8 L393.3 381.6 L392.5 379.9 L392.3 377.8 L392.5 375.5 L393.3 373 L394.6 370.6 L396.2 368.4 L398.1 366.7 L400.1 365.4 L402.1 364.7 L403.9 364.6 L405.5 365.2 L406.7 366.4 L407.5 368.1"/>
<path d="M397.6 362.8 L402.6 365.4 L403.8 363.6 L398.8 360.8Z" stroke-width="1.2"/>
<ellipse cx="474.6" cy="427.4" rx="5.6" ry="5" transform="rotate(-15 474.6 427.4)"/>
<path d="M469.6 429.6 L469.1 428.8 L468.8 427.9 L468.6 427 L468.7 426.1 L469 425.2 L469.4 424.3 L470 423.5 L470.7 422.8 L471.6 422.3 L472.6 421.9 L473.6 421.6 L474.6 421.6 L475.6 421.7 L476.6 421.9 L477.5 422.4 L478.2 422.9"/>
<path d="M469.8 422.6 L473.6 424.6 L478 424.2" stroke-width="2.0"/>
<path d="M472 421.8 L479.6 422.6" stroke-width="1.0"/>
<path d="M478 424.6 L480.2 421.6 L479 420.6" stroke-width="1.0"/>
<path d="M472.6 426.2 L474.6 430.6 L478.6 426.6" stroke-width="0.8"/>
<ellipse cx="488.9" cy="440.1" rx="3" ry="5.2" transform="rotate(22 488.9 440.1)" stroke-width="1.1"/>
<ellipse cx="489.1" cy="440.2" rx="1.8" ry="3.3" transform="rotate(22 489.1 440.2)"/>
<path d="M484.8 443.7 L484.2 443.5 L483.6 443.1 L483.2 442.5 L482.9 441.7 L482.7 440.7 L482.8 439.7 L483 438.6 L483.3 437.5 L483.8 436.5 L484.5 435.6 L485.2 434.8 L485.9 434.2 L486.7 433.8 L487.4 433.7 L488.1 433.8 L488.7 434.1"/>
<line x1="490.9" y1="435.3" x2="488.3" y2="433.8"/>
<line x1="487" y1="444.9" x2="484.3" y2="443.6"/>
<line x1="484.6" y1="437.5" x2="487.2" y2="438.5"/>
<path d="M492.2 436.2 L492.4 436.6 L492.6 437.1 L492.8 437.6 L492.8 438.3 L492.8 438.9 L492.7 439.6 L492.6 440.3 L492.4 441 L492.1 441.7 L491.8 442.3 L491.4 443 L491 443.5 L490.5 444 L490.1 444.4 L489.6 444.8 L489.1 445" stroke-width="1.5"/>
<path d="M253 400.2 L289.7 421.4"/>
<path d="M250.4 404.8 L285.4 425"/>
<path d="M250.5 404.8 L250.3 404.6 L250.2 404.4 L250.1 404 L250.1 403.7 L250.2 403.3 L250.3 402.8 L250.5 402.4 L250.8 401.9 L251 401.5 L251.3 401.1 L251.7 400.8 L252 400.5 L252.3 400.3 L252.6 400.2 L252.9 400.2 L253.1 400.2"/>
<path d="M267.7 408.7 L267.9 408.9 L268 409.1 L268.1 409.4 L268 409.8 L268 410.2 L267.8 410.6 L267.6 411.1 L267.4 411.6 L267.1 412 L266.8 412.4 L266.5 412.7 L266.2 413 L265.9 413.2 L265.6 413.3 L265.4 413.3 L265.1 413.3" stroke-width="1.2"/>
<path d="M269.5 409.7 L269.6 409.9 L269.7 410.1 L269.8 410.4 L269.8 410.8 L269.7 411.2 L269.6 411.6 L269.4 412.1 L269.1 412.6 L268.9 413 L268.6 413.4 L268.2 413.7 L267.9 414 L267.6 414.2 L267.3 414.3 L267.1 414.3 L266.9 414.3" stroke-width="1.2"/>
<path d="M273.8 412.2 L274 412.4 L274.1 412.6 L274.1 412.9 L274.1 413.3 L274 413.7 L273.9 414.1 L273.7 414.6 L273.5 415.1 L273.2 415.5 L272.9 415.9 L272.6 416.2 L272.3 416.5 L272 416.7 L271.7 416.8 L271.4 416.8 L271.2 416.8" stroke-width="1.2"/>
<path d="M275.9 413.4 L276 413.6 L276.1 413.8 L276.2 414.1 L276.2 414.5 L276.1 414.9 L276 415.3 L275.8 415.8 L275.5 416.2 L275.3 416.7 L275 417.1 L274.7 417.4 L274.3 417.7 L274 417.9 L273.7 418 L273.5 418 L273.3 418" stroke-width="1.2"/>
<path d="M279 415.2 L279.2 415.4 L279.3 415.6 L279.3 415.9 L279.3 416.3 L279.2 416.7 L279.1 417.1 L278.9 417.6 L278.7 418.1 L278.4 418.5 L278.1 418.9 L277.8 419.2 L277.5 419.5 L277.1 419.7 L276.9 419.8 L276.6 419.8 L276.4 419.8" stroke-width="1.2"/>
<path d="M280.7 416.2 L280.9 416.4 L281 416.6 L281 416.9 L281 417.3 L280.9 417.7 L280.8 418.1 L280.6 418.6 L280.4 419.1 L280.1 419.5 L279.8 419.9 L279.5 420.2 L279.2 420.5 L278.9 420.7 L278.6 420.8 L278.3 420.8 L278.1 420.8" stroke-width="1.2"/>
<path d="M268.5 411.5 L272.8 414" stroke-width="1.2"/>
<path d="M265.1 413.3 L264.6 414.1 L270.7 417.6 L271.2 416.8" stroke-width="1.3"/>
<path d="M267.2 408.4 L268.1 408.1 L272 410.3" stroke-width="1.1"/>
<path d="M287.3 433.1 L286.4 432.7 L285.8 432 L285.3 430.9 L285.2 429.6 L285.3 428.1 L285.7 426.4 L286.3 424.7 L287.2 423 L288.2 421.4 L289.4 420 L290.7 418.8 L291.9 417.9 L293.1 417.4 L294.3 417.3 L295.2 417.5 L296 418.1"/>
<ellipse cx="300.2" cy="430.5" rx="4.4" ry="8.8" transform="rotate(30 300.2 430.5)"/>
<line x1="295.4" y1="417.6" x2="304.6" y2="422.9"/>
<line x1="286.6" y1="432.8" x2="295.8" y2="438.1"/>
<ellipse cx="301.6" cy="431.3" rx="2.9" ry="5.6" transform="rotate(30 301.6 431.3)"/>
<ellipse cx="306.2" cy="434" rx="2.5" ry="4.5" transform="rotate(30 306.2 434)"/>
<line x1="308.4" y1="430.1" x2="304.1" y2="427.6"/>
<line x1="303.9" y1="437.9" x2="300.9" y2="436.2"/>
<ellipse cx="302.2" cy="431.7" rx="2.2" ry="4.2" transform="rotate(30 302.2 431.7)"/>
<path d="M332.4 341.9 L332 341.7 L331.6 341.4 L331.4 340.9 L331.3 340.3 L331.3 339.6 L331.4 338.8 L331.7 338.1 L332.1 337.3 L332.6 336.6 L333.1 336 L333.7 335.5 L334.3 335.1 L334.8 334.9 L335.4 334.9 L335.9 335 L336.3 335.3"/>
<line x1="336.3" y1="335.3" x2="340.7" y2="337.8"/>
<line x1="332.4" y1="341.9" x2="336" y2="344"/>
<path d="M336.1 348.7 L335.2 348.3 L334.6 347.6 L334.1 346.5 L334 345.2 L334.1 343.7 L334.5 342 L335.1 340.3 L336 338.6 L337 337 L338.2 335.6 L339.5 334.4 L340.7 333.5 L341.9 333 L343.1 332.9 L344 333.1 L344.8 333.7"/>
<ellipse cx="349.4" cy="346.3" rx="4.4" ry="8.8" transform="rotate(30 349.4 346.3)"/>
<line x1="344.2" y1="333.2" x2="353.8" y2="338.7"/>
<line x1="335.4" y1="348.4" x2="345" y2="353.9"/>
<ellipse cx="350.4" cy="346.9" rx="2.9" ry="5.6" transform="rotate(30 350.4 346.9)"/>
<ellipse cx="351.2" cy="347.4" rx="1.7" ry="3.2" transform="rotate(30 351.2 347.4)"/>
<path d="M353.9 345.9 L391.5 367.6"/>
<path d="M351.8 350.8 L388.9 372.2"/>
<path d="M391.5 367.6 L391.7 367.8 L391.8 368 L391.8 368.4 L391.8 368.7 L391.8 369.1 L391.6 369.6 L391.5 370 L391.2 370.5 L391 370.9 L390.6 371.3 L390.3 371.6 L390 371.9 L389.7 372.1 L389.4 372.2 L389.1 372.2 L388.9 372.2"/>
<path d="M362.2 350.7 L362.4 350.9 L362.5 351.1 L362.5 351.4 L362.5 351.8 L362.4 352.2 L362.3 352.6 L362.1 353.1 L361.9 353.6 L361.6 354 L361.3 354.4 L361 354.7 L360.7 355 L360.4 355.2 L360.1 355.3 L359.8 355.3 L359.6 355.3"/>
<path d="M364.3 351.9 L364.5 352.1 L364.6 352.3 L364.6 352.6 L364.6 353 L364.5 353.4 L364.4 353.8 L364.2 354.3 L363.9 354.8 L363.7 355.2 L363.4 355.6 L363.1 355.9 L362.7 356.2 L362.4 356.4 L362.2 356.5 L361.9 356.5 L361.7 356.5"/>
<path d="M367.4 353.7 L367.6 353.9 L367.7 354.1 L367.7 354.4 L367.7 354.8 L367.6 355.2 L367.5 355.6 L367.3 356.1 L367.1 356.6 L366.8 357 L366.5 357.4 L366.2 357.7 L365.9 358 L365.6 358.2 L365.3 358.3 L365 358.3 L364.8 358.3"/>
<path d="M369.1 354.7 L369.3 354.9 L369.4 355.1 L369.5 355.4 L369.4 355.8 L369.4 356.2 L369.2 356.6 L369 357.1 L368.8 357.6 L368.5 358 L368.2 358.4 L367.9 358.7 L367.6 359 L367.3 359.2 L367 359.3 L366.8 359.3 L366.5 359.3"/>
<path d="M373.5 357.2 L373.6 357.4 L373.7 357.6 L373.8 357.9 L373.8 358.3 L373.7 358.7 L373.5 359.1 L373.4 359.6 L373.1 360.1 L372.9 360.5 L372.6 360.9 L372.2 361.2 L371.9 361.5 L371.6 361.7 L371.3 361.8 L371.1 361.8 L370.9 361.8"/>
<path d="M375.2 358.2 L375.4 358.4 L375.5 358.6 L375.5 358.9 L375.5 359.3 L375.4 359.7 L375.3 360.1 L375.1 360.6 L374.9 361.1 L374.6 361.5 L374.3 361.9 L374 362.2 L373.7 362.5 L373.4 362.7 L373.1 362.8 L372.8 362.8 L372.6 362.8"/>
<path d="M368.1 356.5 L372.5 359"/>
<path d="M366.5 359.3 L366.1 359.9 L372.2 363.4 L372.6 362.8"/>
<path d="M319.4 435.3 L533.1 558.7"/>
<path d="M313.6 444.2 L527.8 567.9"/>
<path d="M319.4 435.3 C318.9 435.4 317.5 435.2 316.6 435.7 C315.7 436.2 314.7 437.4 314.1 438.4 C313.5 439.4 313.1 441 313 441.9 C312.9 442.9 313.5 443.8 313.6 444.2"/>
<ellipse cx="530.5" cy="563.3" rx="2.7" ry="5.3" transform="rotate(30 530.5 563.3)"/>
<ellipse cx="530.9" cy="563.5" rx="1.9" ry="3.7" transform="rotate(30 530.9 563.5)"/>
<line x1="466.2" y1="523" x2="466.4" y2="532.2" stroke-width="1.5"/>
<line x1="469.1" y1="524.6" x2="469.3" y2="533.8" stroke-width="1.5"/>
<line x1="471.9" y1="526.3" x2="472.1" y2="535.5" stroke-width="1.5"/>
<line x1="474.8" y1="527.9" x2="475" y2="537.1" stroke-width="1.5"/>
<line x1="477.6" y1="529.6" x2="477.8" y2="538.8" stroke-width="1.5"/>
<line x1="480.5" y1="531.2" x2="480.7" y2="540.4" stroke-width="1.5"/>
<line x1="483.4" y1="532.9" x2="483.6" y2="542.1" stroke-width="1.5"/>
<line x1="486.2" y1="534.5" x2="486.4" y2="543.7" stroke-width="1.5"/>
<line x1="489.1" y1="536.2" x2="489.3" y2="545.4" stroke-width="1.5"/>
<line x1="491.9" y1="537.8" x2="492.1" y2="547" stroke-width="1.5"/>
<line x1="494.8" y1="539.5" x2="495" y2="548.7" stroke-width="1.5"/>
<line x1="497.6" y1="541.1" x2="497.8" y2="550.3" stroke-width="1.5"/>
<line x1="500.5" y1="542.8" x2="500.7" y2="552" stroke-width="1.5"/>
<line x1="503.4" y1="544.4" x2="503.6" y2="553.6" stroke-width="1.5"/>
<line x1="506.2" y1="546.1" x2="506.4" y2="555.3" stroke-width="1.5"/>
<line x1="509.1" y1="547.7" x2="509.3" y2="556.9" stroke-width="1.5"/>
<line x1="511.9" y1="549.4" x2="512.1" y2="558.6" stroke-width="1.5"/>
<line x1="514.8" y1="551" x2="515" y2="560.2" stroke-width="1.5"/>
<line x1="517.7" y1="552.7" x2="517.9" y2="561.9" stroke-width="1.5"/>
<path d="M466.6 523.1 L520.8 554.4" stroke-width="0.7"/>
<path d="M459.7 528.6 C460.1 528.1 461.2 526.4 461.9 525.6 C462.6 524.7 463.2 524 464 523.6 C464.8 523.1 466.2 523.2 466.6 523.1"/>
<ellipse cx="553.6" cy="497.4" rx="9.7" ry="9.5"/>
<path d="M562.5 497 L562.4 497.9 L562 498.7 L561.2 499.6 L560.2 500.4 L558.9 501.2 L557.5 501.9 L555.9 502.4 L554.2 502.9 L552.5 503.2 L550.8 503.3 L549.2 503.3 L547.8 503.1 L546.5 502.7 L545.4 502.2 L544.7 501.6 L544.2 500.9"/>
<path d="M561.8 500.4 L561.6 501.2 L561.1 501.9 L560.4 502.7 L559.5 503.4 L558.4 504.1 L557.1 504.7 L555.7 505.2 L554.2 505.6 L552.7 505.8 L551.3 506 L549.9 505.9 L548.6 505.8 L547.4 505.5 L546.5 505.1 L545.7 504.5 L545.2 503.9"/>
<path d="M545.7 495.9 L546.1 495.1 L546.7 494.4 L547.4 493.7 L548.4 493 L549.4 492.4 L550.6 491.8 L551.9 491.4 L553.2 491.1 L554.5 490.8 L555.9 490.7 L557.2 490.7 L558.4 490.8 L559.5 491.1 L560.5 491.4 L561.4 491.9 L562.1 492.4"/>
<ellipse cx="550.9" cy="492" rx="5.2" ry="3.6" transform="rotate(-12 550.9 492)" stroke-width="1.1"/>
<ellipse cx="551.1" cy="491.6" rx="3.2" ry="2" transform="rotate(-12 551.1 491.6)"/>
<path d="M549 491.4 L549.3 486.4 L549.9 481.8"/>
<path d="M553.4 491.4 L553.1 486.4 L552.5 481.8"/>
<path d="M549.9 481.8 L549.9 481.5 L550 481.3 L550.1 481 L550.3 480.8 L550.5 480.6 L550.7 480.5 L550.9 480.4 L551.2 480.4 L551.5 480.4 L551.7 480.5 L551.9 480.6 L552.1 480.8 L552.3 481 L552.4 481.3 L552.5 481.5 L552.5 481.8"/>
<line x1="549.2" y1="486.8" x2="550.2" y2="486"/>
<path d="M506.4 447.2 C507.2 448.1 509.9 450.5 511.4 452.6 C512.9 454.7 514 456.5 515.4 459.6 C516.8 462.7 518.5 467.4 520 471 C521.5 474.6 523.1 478.5 524.6 481 C526.1 483.5 527.3 484.7 529 486 C530.7 487.3 532.5 487.9 535 489 C537.5 490.1 542.7 492 544.2 492.6"/>
<path d="M497.6 455 C498.5 455.6 501.5 457.3 503 458.6 C504.5 459.9 505.2 460.3 506.6 463 C508 465.7 509.9 471.1 511.6 475 C513.3 478.9 514.9 483.8 516.6 486.6 C518.3 489.4 519.7 490.3 522 492 C524.3 493.7 527.4 495.2 530.6 496.6 C533.8 498 538.1 499.1 541 500.6 C543.9 502.1 546.8 504.6 548 505.4"/>
<line x1="524.6" y1="481" x2="516.6" y2="486.6"/>
<path d="M534.2 488.6 C533.8 489.3 532.1 491.2 531.6 492.6 C531.1 494 531.1 496.1 531 496.8"/>
<path d="M541.6 491.6 C541.3 492.3 539.9 494.2 539.6 495.6 C539.3 497 539.9 499.4 540 500.2"/>
<path d="M515.4 459.6 C514.6 459.7 512.1 459.4 510.6 460 C509.1 460.6 507.3 462.5 506.6 463"/>
<path d="M497 445.2 L503.6 443.2 L507.4 446.6 L507.6 450.6 L503.6 455.6 L498 456.2 L494.8 452.6 L494.6 448.4Z"/>
<ellipse cx="498.6" cy="450.2" rx="2.8" ry="4.4" transform="rotate(50 498.6 450.2)"/>
<line x1="503.6" y1="443.2" x2="502" y2="447.6"/>
<line x1="503.6" y1="455.6" x2="502.6" y2="452"/>
<path d="M497 445.2 L499.6 446.6 L503.4 446"/>
<path d="M114.4 512.4 C115.7 511.1 118.9 507 122 504.6 C125.1 502.2 129.1 499.8 133 498 C136.9 496.2 139.4 495 145.6 493.8 C151.8 492.6 160.9 491.4 170 490.6 C179.1 489.8 190.2 488.9 200 488.8 C209.8 488.7 219.7 489 229 490 C238.3 491 248.6 493.5 256 494.8 C263.4 496.1 269 496.3 273.6 497.8 C278.2 499.3 280.7 501.5 283.6 503.6 C286.5 505.7 288.2 508.1 291 510.2 C293.8 512.3 298.4 513.8 300.4 516 C302.4 518.2 302.9 520.7 302.8 523.6 C302.7 526.5 300.3 531.8 299.8 533.4"/>
<path d="M299.8 533.4 C300.3 534.3 301.1 537.2 303 539 C304.9 540.8 309.3 542.5 311 544 C312.7 545.5 312.9 546.6 313 548 C313.1 549.4 311.8 551.7 311.6 552.4"/>
<path d="M311.6 552.4 L292.6 571"/>
<path d="M292.6 571 C291.8 571.3 289.6 572.7 288 572.8 C286.4 572.9 285.2 572.3 283 571.4 C280.8 570.5 277.6 568.4 275 567.4 C272.4 566.4 270.4 565.4 267.6 565.4 C264.8 565.4 261.7 566.5 258 567.6 C254.3 568.7 247.7 571.4 245.6 572.2"/>
<path d="M245.6 572.2 C244.5 571.6 241.4 569.9 239 568.6 C236.6 567.3 233.2 564.7 231 564.4 C228.8 564.1 227.5 565.3 225.6 566.6 C223.7 567.9 221.7 570.2 219.4 572.4 C217.1 574.6 214.7 578.1 212 580 C209.3 581.9 206.5 583.2 203 584 C199.5 584.8 195.3 585.1 191 584.8 C186.7 584.5 182.6 584 177.4 582 C172.2 580 165.4 575.9 160 573 C154.6 570.1 149.5 567.3 145 564.6 C140.5 561.9 135.9 559.6 133 556.8 C130.1 554 128.8 550.8 127.6 548 C126.4 545.2 126.4 543.3 126 540 C125.6 536.7 125.9 531.1 125.4 528 C124.9 524.9 124.8 524.2 123 521.6 C121.2 519 115.8 513.9 114.4 512.4"/>
<path d="M125.2 526 C129.3 528.3 142.5 535.8 150 540 C157.5 544.2 164.7 548.6 170 551.4 C175.3 554.2 177.8 555.4 182 556.6 C186.2 557.8 190 558.8 195 558.8 C200 558.8 207 557.9 212 556.6 C217 555.3 219.7 553.9 225.2 551 C230.7 548.1 238.7 543 245 539 C251.3 535 258.5 529.8 263 527 C267.5 524.2 269.2 523.2 272 522 C274.8 520.8 277.6 520 280 519.6 C282.4 519.2 284.7 519.2 286.6 519.4 C288.5 519.6 290.8 520.7 291.6 521"/>
<path d="M291.4 520.6 L291.8 524 L245.6 572.2"/>
<path d="M130 514.2 L148 501.6 L206.6 497.2" stroke="#1c1c1c" stroke-width="3.5" fill="none" stroke-linecap="round" stroke-linejoin="round"/>
<path d="M130 514.2 L148 501.6 L206.6 497.2" stroke="#fff" stroke-width="1.9" fill="none" stroke-linecap="round" stroke-linejoin="round"/>
<path d="M150.6 516.2 L195.6 541.6" stroke="#1c1c1c" stroke-width="3.7" fill="none" stroke-linecap="round" stroke-linejoin="round"/>
<path d="M150.6 516.2 L195.6 541.6" stroke="#fff" stroke-width="2.1" fill="none" stroke-linecap="round" stroke-linejoin="round"/>
<path d="M206.4 506.4 L240.6 526.4" stroke="#1c1c1c" stroke-width="3.7" fill="none" stroke-linecap="round" stroke-linejoin="round"/>
<path d="M206.4 506.4 L240.6 526.4" stroke="#fff" stroke-width="2.1" fill="none" stroke-linecap="round" stroke-linejoin="round"/>
<line x1="233" y1="495" x2="271.4" y2="517.2"/>
<path d="M256.4 495.8 L280.4 511.4" stroke-width="1.6"/>
<path d="M258.4 494.6 L282.4 509.6" stroke-width="0.7"/>
<ellipse cx="161.6" cy="561" rx="1.3" ry="2.2" transform="rotate(10 161.6 561)"/>
<line x1="198.8" y1="563.6" x2="196.8" y2="578"/>
<line x1="277.6" y1="543" x2="302.8" y2="557"/>
<line x1="271.6" y1="548.2" x2="296.6" y2="562.8"/>
<ellipse cx="304.6" cy="550" rx="2.6" ry="1.8" transform="rotate(-25 304.6 550)"/>
<ellipse cx="287.4" cy="565.6" rx="2.6" ry="1.8" transform="rotate(-25 287.4 565.6)"/>
<path d="M19.2 523.5 L37.8 534.7" stroke-width="1.05"/>
<path d="M20.4 521.3 L39 532.5" stroke-width="1.05"/>
<path d="M19.2 523.5 L20.4 521.3"/>
<ellipse cx="39.1" cy="534" rx="1.4" ry="2.2" transform="rotate(31.1 39.1 534)" stroke-width="1.1"/>
<path d="M454.3 775.1 L472.3 786.7" stroke-width="1.05"/>
<path d="M455.7 772.9 L473.7 784.5" stroke-width="1.05"/>
<path d="M454.3 775.1 L455.7 772.9"/>
<ellipse cx="473.7" cy="786" rx="1.4" ry="2.2" transform="rotate(32.8 473.7 786)" stroke-width="1.1"/>
<path d="M20.5 547.4 L22.7 544.2 L28.9 543.7 L33.3 546.5 L33.7 551.7 L30.7 555.6 L24.2 555.9 L20.9 552.8Z" stroke-width="1.2"/>
<ellipse cx="27.4" cy="548" rx="3.4" ry="2.2" transform="rotate(10 27.4 548)" stroke-width="1.4"/>
<path d="M20.7 550.4 L24.6 552.2 L30.3 551.8 L33.5 549.2" stroke-width="1.1"/>
<path d="M24.6 552.2 L24.2 555.8"/>
<path d="M30.3 551.8 L30.7 555.4"/>
<path d="M24.6 544 L25.1 546.8" stroke-width="1.5"/>
<path d="M31.1 545.1 L30.2 547.4" stroke-width="1.5"/>
<path d="M21.8 545.7 L23.8 548.3" stroke-width="1.5"/>
<path d="M27.6 543.8 L27.7 546.1" stroke-width="1.3"/>
<path d="M26.6 550.2 L26.8 554.1" stroke-width="1.2"/>
<path d="M22.4 551.3 L22.7 554.3" stroke-width="1.0"/>
<path d="M456.3 799 L458.5 795.8 L464.7 795.3 L469.1 798.1 L469.5 803.3 L466.5 807.2 L460 807.5 L456.7 804.4Z" stroke-width="1.2"/>
<ellipse cx="463.2" cy="799.6" rx="3.4" ry="2.2" transform="rotate(10 463.2 799.6)" stroke-width="1.4"/>
<path d="M456.5 802 L460.4 803.8 L466.1 803.4 L469.3 800.8" stroke-width="1.1"/>
<path d="M460.4 803.8 L460 807.4"/>
<path d="M466.1 803.4 L466.5 807"/>
<path d="M460.4 795.6 L460.9 798.4" stroke-width="1.5"/>
<path d="M466.9 796.8 L466 799" stroke-width="1.5"/>
<path d="M457.6 797.3 L459.6 799.9" stroke-width="1.5"/>
<path d="M463.4 795.4 L463.5 797.7" stroke-width="1.3"/>
<path d="M462.4 801.8 L462.6 805.7" stroke-width="1.2"/>
<path d="M458.2 802.9 L458.5 805.9" stroke-width="1.0"/>
<ellipse cx="27.9" cy="576.9" rx="8.3" ry="8.2"/>
<path d="M36 579.9 L35.6 580.5 L35 581.1 L34.1 581.5 L33 581.8 L31.7 581.9 L30.3 582 L28.9 581.9 L27.4 581.6 L26 581.2 L24.6 580.7 L23.4 580.2 L22.3 579.5 L21.4 578.8 L20.8 578 L20.4 577.3 L20.2 576.6"/>
<path d="M35.1 582.5 L34.7 583 L34.1 583.5 L33.2 583.8 L32.3 584.1 L31.1 584.2 L29.9 584.3 L28.7 584.2 L27.4 583.9 L26.1 583.6 L24.9 583.2 L23.8 582.7 L22.8 582.1 L22 581.5 L21.4 580.8 L21.1 580.1 L20.9 579.5"/>
<path d="M20.5 572.6 L21.1 572.2 L21.9 571.8 L22.7 571.5 L23.7 571.3 L24.8 571.2 L25.9 571.2 L27 571.2 L28.2 571.4 L29.3 571.7 L30.4 572.1 L31.4 572.6 L32.3 573.1 L33.1 573.7 L33.8 574.3 L34.3 575 L34.7 575.6"/>
<ellipse cx="26.8" cy="572.3" rx="4.5" ry="3.1" transform="rotate(12 26.8 572.3)" stroke-width="1.1"/>
<ellipse cx="27" cy="571.9" rx="2.8" ry="1.7" transform="rotate(12 27 571.9)"/>
<path d="M25.1 571.7 L25.4 567.4 L25.9 563.5"/>
<path d="M28.9 571.7 L28.7 567.4 L28.2 563.5"/>
<path d="M25.9 563.5 L25.9 563.2 L26 563 L26.1 562.8 L26.2 562.6 L26.4 562.5 L26.6 562.4 L26.8 562.3 L27 562.3 L27.3 562.3 L27.5 562.4 L27.7 562.5 L27.8 562.6 L28 562.8 L28.1 563 L28.1 563.2 L28.2 563.5"/>
<line x1="25.3" y1="567.8" x2="26.2" y2="567.1"/>
<path d="M36.2 577.6 C36.8 578.3 38.3 580.4 39.6 581.6 C40.9 582.8 42.4 583.5 44 584.6 C45.6 585.7 47.2 587 49 588 C50.8 589 51.8 589.6 54.6 590.4 C57.4 591.2 60.2 591.6 66 592.6 C71.8 593.6 84.6 595.3 89.4 596.2 C94.2 597.1 93.2 597.2 95 597.8 C96.8 598.4 99.2 599.6 100 600"/>
<path d="M23.6 584.2 C24.3 584.5 26.5 585.6 28 586 C29.5 586.4 31.2 585.9 32.4 586.6 C33.6 587.3 34.2 588.9 35 590 C35.8 591.1 36.3 592.1 37.2 593.2 C38.1 594.3 39.3 595.8 40.4 596.8 C41.5 597.8 41.8 598.5 44 599.2 C46.2 599.9 49.3 600.5 53.6 601.2 C57.9 601.9 64 602.7 70 603.6 C76 604.5 84.8 606.1 89.4 606.8 C94 607.5 96.2 607.8 97.6 608"/>
<line x1="32.8" y1="587" x2="38.6" y2="581"/>
<line x1="54.6" y1="590.4" x2="53.6" y2="601.2"/>
<path d="M89.4 596.2 C89.8 596.9 91.1 598.8 91.6 600.6 C92.1 602.4 92.3 606.1 92.4 607.2"/>
<path d="M98.6 599 L101 597.6 L112.6 602.6 L114.6 605 L114 611 L111.6 612.8 L99.6 608.6 L97.6 606Z"/>
<line x1="101" y1="597.6" x2="99.8" y2="608.4"/>
<line x1="105.6" y1="599.6" x2="104.6" y2="610.4" stroke-width="1.3"/>
<line x1="109" y1="601.2" x2="108.2" y2="611.6"/>
<path d="M114.6 603 L131.6 611.4"/>
<path d="M114 609.4 L130.4 617.4"/>
<line x1="116.8" y1="604.2" x2="116.1" y2="610.6"/>
<line x1="119" y1="605.3" x2="118.3" y2="611.7"/>
<path d="M120.6 606 L120 612.2 L125.6 615 L126.4 608.8Z" stroke-width="1.3"/>
<path d="M122 608.4 L121.8 611.6 L124.4 612.8 L124.6 609.6Z" stroke-width="0.8"/>
<line x1="128.4" y1="609.8" x2="127.6" y2="616"/>
<ellipse cx="133.6" cy="615.4" rx="2.4" ry="4.4" transform="rotate(30 133.6 615.4)" stroke-width="1.5"/>
<path d="M137.5 612.2 L137.9 612.5 L138.1 613 L138.3 613.6 L138.3 614.2 L138.2 615 L138 615.8 L137.7 616.6 L137.3 617.4 L136.8 618.2 L136.2 618.8 L135.7 619.4 L135 619.9 L134.4 620.2 L133.9 620.3 L133.3 620.3 L132.9 620.2" stroke-width="1.2"/>
<path d="M136.3 621.4 L135.6 621.1 L135.2 620.5 L135.1 619.4 L135.3 618.1 L135.8 616.7 L136.6 615.2 L137.5 613.9 L138.5 612.7 L139.5 611.9 L140.4 611.5 L141.2 611.5 L141.8 611.9" stroke-width="0.7"/>
<path d="M138.2 621.1 L137.7 620.9 L137.3 620.4 L137.3 619.6 L137.4 618.6 L137.8 617.4 L138.4 616.3 L139.1 615.2 L139.9 614.3 L140.7 613.7 L141.4 613.3 L142 613.3 L142.5 613.7" stroke-width="0.7"/>
<path d="M137.7 626 L136.6 625.6 L136 624.5 L135.8 622.9 L136.1 620.8 L136.9 618.5 L138.1 616.1 L139.6 613.9 L141.2 612.1 L142.8 610.8 L144.3 610.1 L145.6 610.1 L146.5 610.8" stroke-width="0.7"/>
<path d="M139.5 625.7 L138.6 625.4 L138.1 624.4 L137.9 623 L138.2 621.2 L138.9 619.2 L139.9 617.2 L141.2 615.3 L142.6 613.7 L144 612.5 L145.3 611.9 L146.4 611.9 L147.2 612.5" stroke-width="0.7"/>
<path d="M139.8 629 L138.5 628.6 L137.8 627.3 L137.6 625.3 L138 622.9 L138.9 620.2 L140.3 617.4 L142 614.8 L143.9 612.6 L145.8 611.1 L147.6 610.3 L149.1 610.3 L150.1 611.1" stroke-width="0.7"/>
<path d="M141.6 628.8 L140.5 628.3 L139.9 627.2 L139.7 625.5 L140.1 623.3 L140.9 620.9 L142.1 618.4 L143.6 616.1 L145.3 614.2 L147 612.8 L148.6 612.1 L149.9 612.1 L150.8 612.8" stroke-width="0.7"/>
<path d="M142.2 631.4 L140.9 630.8 L140.1 629.5 L139.9 627.4 L140.3 624.7 L141.3 621.8 L142.8 618.8 L144.6 616 L146.7 613.7 L148.7 612 L150.6 611.1 L152.2 611.2 L153.4 612" stroke-width="0.7"/>
<path d="M144.1 631.1 L142.9 630.6 L142.2 629.4 L142 627.5 L142.4 625.2 L143.3 622.5 L144.6 619.9 L146.2 617.4 L148.1 615.3 L149.9 613.8 L151.6 613 L153.1 613 L154.1 613.8" stroke-width="0.7"/>
<path d="M144.8 633.3 L143.4 632.8 L142.6 631.3 L142.4 629.2 L142.8 626.5 L143.9 623.4 L145.4 620.3 L147.3 617.4 L149.4 615 L151.6 613.3 L153.5 612.4 L155.2 612.4 L156.3 613.3" stroke-width="0.7"/>
<path d="M146.7 633 L145.5 632.6 L144.7 631.3 L144.5 629.3 L144.9 626.9 L145.8 624.2 L147.2 621.4 L148.9 618.8 L150.8 616.6 L152.8 615.1 L154.5 614.3 L156 614.3 L157.1 615.1" stroke-width="0.7"/>
<path d="M147.5 635.1 L146.1 634.5 L145.3 633.1 L145 630.9 L145.5 628.1 L146.5 625 L148.1 621.9 L150 619 L152.2 616.5 L154.4 614.7 L156.4 613.8 L158.1 613.8 L159.2 614.8" stroke-width="0.7"/>
<path d="M149.4 634.8 L148.1 634.3 L147.4 633 L147.2 631 L147.6 628.5 L148.5 625.8 L149.9 622.9 L151.7 620.3 L153.6 618.1 L155.6 616.5 L157.4 615.7 L158.9 615.7 L159.9 616.5" stroke-width="0.7"/>
<path d="M150.3 636.7 L148.9 636.1 L148 634.7 L147.8 632.5 L148.3 629.7 L149.3 626.6 L150.9 623.5 L152.8 620.6 L155 618.1 L157.1 616.3 L159.2 615.4 L160.8 615.4 L162 616.4" stroke-width="0.7"/>
<path d="M152.1 636.4 L150.9 635.9 L150.1 634.6 L149.9 632.6 L150.3 630.1 L151.3 627.4 L152.7 624.5 L154.4 621.9 L156.4 619.7 L158.3 618.1 L160.1 617.3 L161.7 617.3 L162.7 618.1" stroke-width="0.7"/>
<path d="M153.1 638.1 L151.7 637.6 L150.9 636.1 L150.7 634 L151.1 631.3 L152.2 628.2 L153.7 625.1 L155.6 622.2 L157.7 619.8 L159.9 618.1 L161.9 617.2 L163.5 617.2 L164.7 618.1" stroke-width="0.7"/>
<path d="M155 637.8 L153.8 637.4 L153 636.1 L152.8 634.1 L153.2 631.7 L154.1 629 L155.5 626.2 L157.2 623.6 L159.2 621.4 L161.1 619.9 L162.9 619.1 L164.3 619.1 L165.4 619.9" stroke-width="0.7"/>
<path d="M156 639.5 L154.6 639 L153.8 637.6 L153.6 635.5 L154 632.8 L155 629.8 L156.6 626.8 L158.4 623.9 L160.5 621.6 L162.6 619.9 L164.6 619 L166.2 619 L167.3 619.9" stroke-width="0.7"/>
<path d="M157.9 639.3 L156.6 638.8 L155.9 637.5 L155.7 635.6 L156.1 633.2 L157 630.5 L158.4 627.8 L160.1 625.3 L161.9 623.2 L163.8 621.6 L165.6 620.8 L167 620.8 L168 621.6" stroke-width="0.7"/>
<path d="M158.8 641 L157.5 640.4 L156.7 639.1 L156.5 637 L156.9 634.3 L157.9 631.4 L159.4 628.4 L161.2 625.6 L163.3 623.3 L165.4 621.6 L167.3 620.7 L168.9 620.8 L170 621.6" stroke-width="0.7"/>
<path d="M160.7 640.7 L159.5 640.2 L158.8 639 L158.6 637.1 L159 634.8 L159.9 632.1 L161.2 629.5 L162.9 627 L164.7 624.9 L166.6 623.4 L168.3 622.6 L169.7 622.6 L170.7 623.4" stroke-width="0.7"/>
<path d="M161.7 642.4 L160.4 641.9 L159.6 640.5 L159.4 638.5 L159.8 635.9 L160.8 633 L162.2 630 L164.1 627.3 L166.1 625 L168.1 623.4 L170 622.5 L171.5 622.5 L172.6 623.4" stroke-width="0.7"/>
<path d="M163.6 642.1 L162.4 641.6 L161.7 640.4 L161.5 638.6 L161.9 636.3 L162.8 633.7 L164.1 631.1 L165.7 628.7 L167.5 626.6 L169.3 625.1 L171 624.4 L172.4 624.4 L173.3 625.2" stroke-width="0.7"/>
<path d="M164.5 643.8 L163.3 643.3 L162.5 642 L162.3 639.9 L162.7 637.4 L163.6 634.6 L165.1 631.7 L166.9 629 L168.8 626.8 L170.8 625.1 L172.7 624.3 L174.2 624.3 L175.3 625.2" stroke-width="0.7"/>
<path d="M166.4 643.5 L165.3 643.1 L164.6 641.9 L164.4 640.1 L164.8 637.8 L165.6 635.3 L166.9 632.7 L168.5 630.4 L170.3 628.3 L172 626.9 L173.7 626.2 L175 626.2 L176 626.9" stroke-width="0.7"/>
<path d="M167.4 645.2 L166.1 644.7 L165.4 643.4 L165.2 641.4 L165.6 638.9 L166.5 636.2 L167.9 633.3 L169.7 630.7 L171.6 628.5 L173.6 626.9 L175.4 626.1 L176.9 626.1 L178 626.9" stroke-width="0.7"/>
<path d="M169.3 645 L168.2 644.5 L167.5 643.4 L167.3 641.6 L167.7 639.4 L168.5 636.9 L169.7 634.4 L171.3 632 L173 630.1 L174.8 628.7 L176.4 627.9 L177.7 627.9 L178.7 628.7" stroke-width="0.7"/>
<path d="M170.2 646.6 L169 646.2 L168.3 644.9 L168.1 642.9 L168.5 640.5 L169.4 637.8 L170.8 635 L172.5 632.4 L174.4 630.2 L176.3 628.7 L178.1 627.9 L179.6 627.9 L180.6 628.7" stroke-width="0.7"/>
<path d="M172.1 646.4 L171 645.9 L170.4 644.8 L170.2 643.1 L170.5 640.9 L171.4 638.5 L172.6 636 L174.1 633.7 L175.8 631.8 L177.5 630.4 L179.1 629.7 L180.4 629.7 L181.3 630.4" stroke-width="0.7"/>
<path d="M173.1 648.1 L171.9 647.6 L171.2 646.3 L171 644.4 L171.4 642 L172.3 639.3 L173.6 636.6 L175.3 634.1 L177.2 632 L179.1 630.4 L180.8 629.6 L182.2 629.6 L183.3 630.4" stroke-width="0.7"/>
<path d="M175 647.8 L173.9 647.4 L173.3 646.3 L173.1 644.6 L173.4 642.5 L174.2 640.1 L175.4 637.7 L176.9 635.4 L178.6 633.5 L180.3 632.2 L181.8 631.5 L183.1 631.5 L184 632.2" stroke-width="0.7"/>
<path d="M176 649.5 L174.8 649 L174.1 647.8 L173.9 645.9 L174.2 643.6 L175.1 640.9 L176.5 638.3 L178.1 635.8 L179.9 633.7 L181.8 632.2 L183.5 631.4 L184.9 631.4 L185.9 632.2" stroke-width="0.7"/>
<path d="M141.8 611.9 L142.5 613.7 L146.5 610.8 L147.2 612.5 L150.1 611.1 L150.8 612.8 L153.4 612 L154.1 613.8 L156.3 613.3 L157.1 615.1 L159.2 614.8 L159.9 616.5 L162 616.4 L162.7 618.1 L164.7 618.1 L165.4 619.9 L167.3 619.9 L168 621.6 L170 621.6 L170.7 623.4 L172.6 623.4 L173.3 625.2 L175.3 625.2 L176 626.9 L178 626.9 L178.7 628.7 L180.6 628.7 L181.3 630.4 L183.3 630.4 L184 632.2 L185.9 632.2" stroke-width="0.7"/>
<path d="M136.3 621.4 L138.2 621.1 L137.7 626 L139.5 625.7 L139.8 629 L141.6 628.8 L142.2 631.4 L144.1 631.1 L144.8 633.3 L146.7 633 L147.5 635.1 L149.4 634.8 L150.3 636.7 L152.1 636.4 L153.1 638.1 L155 637.8 L156 639.5 L157.9 639.3 L158.8 641 L160.7 640.7 L161.7 642.4 L163.6 642.1 L164.5 643.8 L166.4 643.5 L167.4 645.2 L169.3 645 L170.2 646.6 L172.1 646.4 L173.1 648.1 L175 647.8 L176 649.5" stroke-width="0.7"/>
<path d="M177.2 649.5 L176.3 649.1 L175.8 648.4 L175.4 647.3 L175.4 645.8 L175.7 644.2 L176.2 642.3 L177 640.3 L178 638.4 L179.2 636.5 L180.5 634.8 L181.9 633.4 L183.2 632.3 L184.5 631.6 L185.6 631.3 L186.5 631.5 L187.2 632.1" stroke-width="0.7"/>
<path d="M179.1 650.3 L178.3 650 L177.7 649.2 L177.4 648.2 L177.3 646.7 L177.6 645.1 L178.1 643.2 L178.9 641.3 L179.9 639.4 L181.1 637.6 L182.4 635.9 L183.7 634.5 L185 633.5 L186.2 632.8 L187.3 632.5 L188.2 632.7 L188.9 633.2" stroke-width="0.7"/>
<path d="M181.3 651.1 L180.5 650.9 L179.8 650.2 L179.5 649.1 L179.5 647.8 L179.7 646.1 L180.2 644.3 L181 642.4 L182 640.4 L183.2 638.6 L184.5 637 L185.8 635.6 L187.1 634.6 L188.3 633.9 L189.4 633.7 L190.3 633.9 L190.9 634.5" stroke-width="1.5"/>
<path d="M192 635.3 L192.7 635.7 L193.1 636.5 L193.3 637.6 L193.3 638.9 L193 640.4 L192.5 642.1 L191.8 643.8 L190.9 645.5 L189.9 647.1 L188.7 648.6 L187.5 649.9 L186.4 650.9 L185.2 651.6 L184.2 651.9 L183.3 651.9 L182.6 651.5" stroke-width="1.1"/>
<path d="M190.3 633.9 L192.3 635.5"/>
<path d="M180.5 650.9 L182.9 651.7"/>
<line x1="188" y1="630" x2="327" y2="710.7"/>
<line x1="190" y1="634.5" x2="328" y2="714.5"/>
<line x1="190.6" y1="647.7" x2="312" y2="718.2"/>
<line x1="220.6" y1="669.1" x2="326" y2="730.3"/>
<line x1="221.6" y1="673.7" x2="300" y2="719.2" stroke-width="1.5"/>
<path d="M187 645.6 L191.6 648 L191 651 L186.4 648.6Z"/>
<path d="M184 648.2 L196.6 655.6 L198.6 658.6"/>
<path d="M215.8 647 C216.3 646 217.3 642.6 218.6 641 C219.9 639.4 221.7 637.9 223.6 637.2 C225.5 636.5 228.1 636.4 230 637 C231.9 637.6 233.7 639.1 235 640.6 C236.3 642.1 237.4 644.2 237.8 646 C238.2 647.8 238.6 650.2 237.6 651.6 C236.6 653 232.9 654.1 232 654.6"/>
<ellipse cx="227.4" cy="643.8" rx="6.2" ry="5" transform="rotate(-20 227.4 643.8)"/>
<ellipse cx="227.4" cy="643.8" rx="4.8" ry="3.8" transform="rotate(-20 227.4 643.8)" stroke-width="1.6"/>
<ellipse cx="227.4" cy="643.8" rx="2" ry="1.7" transform="rotate(-20 227.4 643.8)"/>
<path d="M232.9 645 L232.7 645.9 L232.4 646.7 L232 647.5 L231.4 648.2 L230.7 648.9 L229.8 649.5 L228.9 649.9 L228 650.3 L227 650.5 L226 650.6 L225 650.5 L224.1 650.3 L223.3 650 L222.5 649.5 L221.9 649 L221.4 648.3"/>
<path d="M198.6 658.6 C198.2 659.3 196.7 661.2 196 663 C195.3 664.8 194.7 667.4 194.6 669.6 C194.5 671.8 194.8 674 195.6 676 C196.4 678 197.9 680.5 199.6 681.6 C201.3 682.7 203.6 682.9 205.6 682.6 C207.6 682.3 209.9 680.9 211.6 679.6 C213.3 678.3 214.7 676 216 674.6 C217.3 673.2 218.2 672 219.6 671.4 C221 670.8 223.8 671.1 224.6 671"/>
<ellipse cx="202.4" cy="670.2" rx="6.2" ry="5" transform="rotate(-20 202.4 670.2)"/>
<ellipse cx="202.4" cy="670.2" rx="4.8" ry="3.8" transform="rotate(-20 202.4 670.2)" stroke-width="1.6"/>
<ellipse cx="202.4" cy="670.2" rx="2" ry="1.7" transform="rotate(-20 202.4 670.2)"/>
<path d="M207.9 671.4 L207.7 672.3 L207.4 673.1 L207 673.9 L206.4 674.6 L205.7 675.3 L204.8 675.9 L203.9 676.3 L203 676.7 L202 676.9 L201 677 L200 676.9 L199.1 676.7 L198.3 676.4 L197.5 675.9 L196.9 675.4 L196.4 674.7"/>
<path d="M138.2 642 L140.2 639.4 L145 639.8 L146.6 643 L145.4 646.2 L140.4 646.4Z" stroke-width="1.2"/>
<ellipse cx="142.2" cy="642" rx="2.2" ry="1.4" transform="rotate(20 142.2 642)" stroke-width="1.0"/>
<path d="M140.6 646.6 L140.2 648.6 L146.8 648.2 L145.6 646.4" stroke-width="1.2"/>
<path d="M142.6 648.8 L145.8 656" stroke-width="1.0"/>
<path d="M145.8 648.2 L148.4 655 L145.8 656" stroke-width="1.0"/>
<line x1="143.4" y1="650.4" x2="146.8" y2="649.6" stroke-width="0.8"/>
<line x1="144.3" y1="652.1" x2="147.4" y2="651.3" stroke-width="0.8"/>
<line x1="145.2" y1="653.8" x2="148" y2="653" stroke-width="0.8"/>
<line x1="146.1" y1="655.5" x2="148.6" y2="654.7" stroke-width="0.8"/>
<path d="M243.8 704 L245.8 701.4 L250.6 701.8 L252.2 705 L251 708.2 L246 708.4Z" stroke-width="1.2"/>
<ellipse cx="247.8" cy="704" rx="2.2" ry="1.4" transform="rotate(20 247.8 704)" stroke-width="1.0"/>
<path d="M246.2 708.6 L245.8 710.6 L252.4 710.2 L251.2 708.4" stroke-width="1.2"/>
<path d="M248.2 710.8 L251.4 718" stroke-width="1.0"/>
<path d="M251.4 710.2 L254 717 L251.4 718" stroke-width="1.0"/>
<line x1="249" y1="712.4" x2="252.4" y2="711.6" stroke-width="0.8"/>
<line x1="249.9" y1="714.1" x2="253" y2="713.3" stroke-width="0.8"/>
<line x1="250.8" y1="715.8" x2="253.6" y2="715" stroke-width="0.8"/>
<line x1="251.7" y1="717.5" x2="254.2" y2="716.7" stroke-width="0.8"/>
<path d="M148 656.6 L155.8 672 L190.6 656.6 L198.2 663" stroke-width="0.8" stroke-dasharray="7 2 1.5 2"/>
<path d="M253.4 717.6 L260.6 733.6 L297.6 717.4 L304 723" stroke-width="0.8" stroke-dasharray="7 2 1.5 2"/>
<ellipse cx="361.8" cy="668.6" rx="15" ry="8.4" transform="rotate(22 361.8 668.6)" stroke-width="1.2"/>
<ellipse cx="362.4" cy="668.2" rx="12.4" ry="6.4" transform="rotate(22 362.4 668.2)" stroke-width="1.5"/>
<ellipse cx="363" cy="668" rx="9.6" ry="4.6" transform="rotate(22 363 668)"/>
<path d="M375.4 681.3 L374.9 683.2 L373.6 684.8 L371.7 686 L369.3 686.8 L366.4 687.1 L363.2 686.9 L359.9 686.2 L356.6 685 L353.4 683.5 L350.6 681.6 L348.3 679.5 L346.5 677.3 L345.4 675 L345 672.9 L345.3 670.9 L346.4 669.2" stroke-width="1.1"/>
<path d="M348 662.7 L346.4 669.2"/>
<path d="M375.8 673.9 L375.4 681.3"/>
<path d="M344.6 669.6 L343.4 672.6 L344.6 675.6" stroke-width="1.1"/>
<path d="M367.6 684.6 L368.4 687.6 L371.6 687.4 L372.2 684" stroke-width="1.2"/>
<path d="M360.6 670.6 L361 663.6 L362.6 659.6 L365 657.6 L367.6 658.4 L369.4 661 L370.6 665 L370.4 672.6" stroke-width="1.1"/>
<path d="M370.1 661.4 L370 661.6 L369.7 661.8 L369.3 662 L368.7 662.1 L368 662.2 L367.2 662.2 L366.4 662.1 L365.6 662 L364.7 661.8 L363.9 661.6 L363.2 661.3 L362.6 661 L362.1 660.7 L361.7 660.4 L361.5 660.1 L361.5 659.8" stroke-width="1.0"/>
<path d="M370.1 664.2 L370 664.4 L369.7 664.6 L369.3 664.8 L368.7 664.9 L368 665 L367.2 665 L366.4 664.9 L365.6 664.8 L364.7 664.6 L363.9 664.4 L363.2 664.1 L362.6 663.8 L362.1 663.5 L361.7 663.2 L361.5 662.9 L361.5 662.6" stroke-width="1.0"/>
<path d="M370.1 667 L370 667.2 L369.7 667.4 L369.3 667.6 L368.7 667.7 L368 667.8 L367.2 667.8 L366.4 667.7 L365.6 667.6 L364.7 667.4 L363.9 667.2 L363.2 666.9 L362.6 666.6 L362.1 666.3 L361.7 666 L361.5 665.7 L361.5 665.4" stroke-width="1.0"/>
<path d="M370.1 669.8 L370 670 L369.7 670.2 L369.3 670.4 L368.7 670.5 L368 670.6 L367.2 670.6 L366.4 670.5 L365.6 670.4 L364.7 670.2 L363.9 670 L363.2 669.7 L362.6 669.4 L362.1 669.1 L361.7 668.8 L361.5 668.5 L361.5 668.2" stroke-width="1.0"/>
<path d="M370.1 672.4 L370 672.6 L369.7 672.8 L369.3 673 L368.7 673.1 L368 673.2 L367.2 673.2 L366.4 673.1 L365.6 673 L364.7 672.8 L363.9 672.6 L363.2 672.3 L362.6 672 L362.1 671.7 L361.7 671.4 L361.5 671.1 L361.5 670.8" stroke-width="1.0"/>
<line x1="346" y1="680" x2="335.8" y2="699.8"/>
<line x1="365.4" y1="688.6" x2="355" y2="708.6"/>
<path d="M355.5 706.4 L355.2 707.3 L354.4 707.9 L353.2 708.4 L351.7 708.6 L349.9 708.6 L348 708.3 L345.9 707.8 L343.9 707.1 L341.9 706.2 L340.1 705.1 L338.5 704 L337.2 702.8 L336.3 701.6 L335.7 700.4 L335.6 699.4 L336 698.5"/>
<path d="M354.9 711.4 L354.5 712.4 L353.7 713.3 L352.4 713.9 L350.6 714.2 L348.6 714.1 L346.3 713.8 L343.9 713.2 L341.5 712.3 L339.1 711.3 L337 710 L335.2 708.6 L333.8 707.2 L332.8 705.8 L332.3 704.5 L332.4 703.3 L333 702.3" stroke-width="1.1"/>
<path d="M355.2 715.2 L355 716.5 L354.1 717.7 L352.5 718.4 L350.5 718.8 L348 718.8 L345.3 718.5 L342.4 717.7 L339.5 716.6 L336.8 715.2 L334.4 713.6 L332.4 711.9 L331 710.2 L330.1 708.6 L330 707 L330.5 705.8 L331.7 704.8" stroke-width="1.4"/>
<path d="M335.8 699.8 L333 703 L331.4 707"/>
<path d="M355 708.6 L355.4 712 L354.6 715"/>
<path d="M340.6 709.6 L341 711.6"/>
<path d="M343.6 710.8 L344 712.8"/>
<path d="M346.6 711.6 L347 713.6"/>
<path d="M349.6 712 L350 714"/>
<path d="M331.4 707 C330.9 707.6 329.2 709.1 328.4 710.6 C327.6 712.1 327 713.9 326.8 716 C326.6 718.1 326.9 720.5 327 723 C327.1 725.5 327.3 729.7 327.4 731"/>
<path d="M354.6 715 L356.6 721 L356 727"/>
<path d="M354.5 729 L353.5 729.8 L352.1 730.3 L350.4 730.6 L348.5 730.7 L346.3 730.5 L344 730 L341.6 729.4 L339.2 728.5 L336.9 727.5 L334.7 726.3 L332.8 725 L331.1 723.6 L329.7 722.2 L328.7 720.8 L328.1 719.5 L327.9 718.2"/>
<path d="M327.6 731 C326.9 731.5 324.5 732.6 323.6 734 C322.7 735.4 321.9 737.8 322 739.6 C322.1 741.4 322.8 743.4 324 744.6 C325.2 745.8 327.4 746.7 329 746.6 C330.6 746.5 332.7 745.3 333.6 744 C334.5 742.7 334.4 739.5 334.6 738.6"/>
<path d="M334.2 738.1 L334 738.6 L333.5 738.9 L332.9 739.2 L332.1 739.4 L331.2 739.5 L330.1 739.5 L329 739.4 L327.9 739.1 L326.8 738.8 L325.8 738.3 L324.9 737.9 L324.2 737.3 L323.6 736.7 L323.2 736.2 L323 735.6 L323 735.1"/>
<path d="M334.6 738.6 L334.6 731.6"/>
<path d="M336 729.6 L343 732.6 L343.6 736.6 L336.6 733.6Z"/>
<path d="M338.6 738.6 L342 745 L345.4 746.6"/>
<path d="M323.6 707.6 C323.9 706.9 324.5 704.8 325.6 703.6 C326.7 702.4 328.5 701.2 330 700.6 C331.5 700 333.8 700.3 334.6 700.2"/>
<path d="M325.6 710.6 L327.6 706"/>
<path d="M303.6 725 C303.1 725.8 301.2 728.2 300.6 730 C300 731.8 299.7 734.1 300.2 736 C300.7 737.9 302 740.1 303.6 741.2 C305.2 742.3 307.5 742.9 309.6 742.6 C311.7 742.3 314.1 741.2 316 739.6 C317.9 738 320.2 734.1 321 733"/>
<ellipse cx="307.2" cy="732.4" rx="2.8" ry="2.2" transform="rotate(-20 307.2 732.4)"/>
<path d="M302.6 727.6 C303.3 727.4 305.2 726.4 306.6 726.6 C308 726.8 309.9 727.5 311 728.6 C312.1 729.7 312.7 732.3 313 733"/>
<path d="M346.6 746.8 L345.5 746.4 L344.8 745.3 L344.6 743.5 L344.9 741.3 L345.7 738.8 L346.9 736.2 L348.4 733.9 L350.1 731.9 L351.8 730.4 L353.4 729.7 L354.7 729.7 L355.7 730.4" stroke-width="0.7"/>
<path d="M348.5 746.5 L347.5 746.1 L346.9 745.1 L346.7 743.6 L347 741.7 L347.7 739.5 L348.7 737.3 L350 735.2 L351.5 733.4 L353 732.2 L354.4 731.5 L355.6 731.5 L356.4 732.1" stroke-width="0.7"/>
<path d="M348.8 749.6 L347.5 749.1 L346.7 747.8 L346.5 745.8 L346.9 743.3 L347.8 740.4 L349.2 737.5 L350.9 734.8 L352.8 732.5 L354.8 730.9 L356.6 730 L358.2 730 L359.3 730.8" stroke-width="0.7"/>
<path d="M350.7 749.3 L349.6 748.9 L348.8 747.7 L348.6 745.9 L349 743.7 L349.8 741.1 L351 738.5 L352.5 736.1 L354.3 734.1 L356 732.6 L357.7 731.8 L359 731.8 L360 732.6" stroke-width="0.7"/>
<path d="M351.4 751.7 L350 751.2 L349.2 749.8 L348.9 747.7 L349.3 745 L350.3 742 L351.7 738.9 L353.6 736.1 L355.6 733.7 L357.7 731.9 L359.6 731 L361.2 731 L362.4 731.9" stroke-width="0.7"/>
<path d="M353.3 751.4 L352 751 L351.3 749.7 L351.1 747.8 L351.4 745.4 L352.3 742.7 L353.6 740 L355.2 737.4 L357 735.2 L358.9 733.7 L360.6 732.9 L362.1 732.8 L363.1 733.6" stroke-width="0.7"/>
<path d="M354.1 753.5 L352.7 753 L351.8 751.6 L351.6 749.4 L351.9 746.7 L352.9 743.6 L354.4 740.4 L356.3 737.5 L358.4 735 L360.5 733.2 L362.5 732.3 L364.2 732.3 L365.3 733.2" stroke-width="0.7"/>
<path d="M355.9 753.2 L354.7 752.8 L353.9 751.5 L353.7 749.5 L354 747.1 L354.9 744.3 L356.3 741.5 L358 738.8 L359.8 736.6 L361.8 735 L363.5 734.1 L365 734.1 L366.1 734.9" stroke-width="0.7"/>
<path d="M356.8 755.2 L355.4 754.6 L354.5 753.2 L354.3 751 L354.7 748.2 L355.7 745.1 L357.2 742 L359.1 739 L361.2 736.5 L363.3 734.7 L365.3 733.8 L367 733.7 L368.2 734.6" stroke-width="0.7"/>
<path d="M358.7 754.9 L357.4 754.4 L356.7 753.1 L356.4 751.1 L356.8 748.6 L357.7 745.8 L359 743 L360.7 740.3 L362.6 738.1 L364.6 736.5 L366.4 735.6 L367.9 735.6 L368.9 736.4" stroke-width="0.7"/>
<path d="M359.6 756.7 L358.2 756.2 L357.3 754.8 L357.1 752.6 L357.5 749.8 L358.5 746.7 L360 743.5 L361.9 740.6 L364 738.1 L366.1 736.3 L368.1 735.3 L369.8 735.3 L371 736.2" stroke-width="0.7"/>
<path d="M361.5 756.4 L360.2 756 L359.5 754.7 L359.2 752.7 L359.6 750.2 L360.5 747.4 L361.8 744.5 L363.5 741.9 L365.4 739.6 L367.4 738 L369.2 737.2 L370.7 737.1 L371.7 738" stroke-width="0.7"/>
<path d="M362.5 758.2 L361.1 757.7 L360.2 756.3 L360 754.1 L360.3 751.3 L361.3 748.2 L362.8 745.1 L364.7 742.1 L366.8 739.7 L368.9 737.9 L370.9 737 L372.6 736.9 L373.7 737.8" stroke-width="0.7"/>
<path d="M364.3 757.9 L363.1 757.4 L362.3 756.1 L362.1 754.2 L362.4 751.7 L363.3 748.9 L364.7 746.1 L366.3 743.5 L368.2 741.2 L370.1 739.6 L371.9 738.8 L373.4 738.8 L374.5 739.6" stroke-width="0.7"/>
<path d="M365.3 759.7 L363.9 759.1 L363.1 757.7 L362.8 755.6 L363.2 752.8 L364.2 749.8 L365.7 746.7 L367.5 743.7 L369.6 741.3 L371.7 739.5 L373.7 738.6 L375.3 738.6 L376.5 739.5" stroke-width="0.7"/>
<path d="M367.2 759.4 L365.9 758.9 L365.2 757.6 L364.9 755.7 L365.3 753.2 L366.2 750.5 L367.5 747.7 L369.2 745.1 L371 742.9 L372.9 741.3 L374.7 740.4 L376.2 740.4 L377.2 741.2" stroke-width="0.7"/>
<path d="M368.2 761 L366.8 760.5 L366 759.1 L365.7 757 L366.1 754.3 L367.1 751.3 L368.5 748.2 L370.4 745.4 L372.4 743 L374.5 741.2 L376.4 740.3 L378 740.3 L379.2 741.2" stroke-width="0.7"/>
<path d="M370.1 760.7 L368.8 760.3 L368.1 759 L367.9 757.1 L368.2 754.7 L369.1 752 L370.4 749.3 L372 746.7 L373.8 744.5 L375.7 743 L377.4 742.2 L378.9 742.1 L379.9 742.9" stroke-width="0.7"/>
<path d="M371.1 762.4 L369.7 761.9 L368.9 760.5 L368.7 758.5 L369 755.8 L370 752.9 L371.4 749.8 L373.2 747 L375.2 744.7 L377.2 743 L379.1 742 L380.7 742 L381.9 742.9" stroke-width="0.7"/>
<path d="M372.9 762.1 L371.7 761.6 L371 760.4 L370.8 758.6 L371.1 756.2 L372 753.6 L373.2 750.9 L374.9 748.3 L376.6 746.2 L378.5 744.7 L380.2 743.9 L381.6 743.9 L382.6 744.6" stroke-width="0.7"/>
<path d="M374 763.7 L372.7 763.2 L371.9 761.9 L371.6 759.8 L372 757.3 L372.9 754.4 L374.3 751.5 L376.1 748.7 L378 746.4 L380 744.7 L381.8 743.9 L383.4 743.8 L384.5 744.7" stroke-width="0.7"/>
<path d="M375.8 763.4 L374.7 762.9 L374 761.8 L373.8 760 L374.1 757.7 L374.9 755.1 L376.2 752.5 L377.7 750 L379.5 748 L381.2 746.5 L382.9 745.7 L384.3 745.7 L385.2 746.4" stroke-width="0.7"/>
<path d="M376.9 765 L375.6 764.5 L374.8 763.2 L374.6 761.2 L375 758.7 L375.9 755.9 L377.2 753.1 L378.9 750.4 L380.8 748.2 L382.8 746.5 L384.6 745.7 L386.1 745.7 L387.1 746.5" stroke-width="0.7"/>
<path d="M378.8 764.7 L377.6 764.2 L376.9 763.1 L376.7 761.3 L377.1 759.1 L377.9 756.6 L379.1 754.1 L380.6 751.7 L382.3 749.7 L384 748.3 L385.6 747.5 L386.9 747.5 L387.9 748.2" stroke-width="0.7"/>
<path d="M379.8 766.2 L378.6 765.7 L377.9 764.5 L377.7 762.6 L378 760.1 L378.9 757.5 L380.2 754.7 L381.8 752.1 L383.6 750 L385.5 748.4 L387.2 747.6 L388.7 747.6 L389.7 748.4" stroke-width="0.7"/>
<path d="M381.7 765.9 L380.6 765.4 L380 764.4 L379.8 762.7 L380.1 760.5 L380.8 758.2 L382 755.7 L383.5 753.4 L385.1 751.5 L386.7 750.2 L388.3 749.4 L389.5 749.4 L390.5 750.1" stroke-width="0.7"/>
<path d="M382.8 767.3 L381.6 766.9 L380.9 765.7 L380.7 763.9 L381 761.6 L381.9 759 L383.1 756.3 L384.7 753.9 L386.4 751.8 L388.2 750.3 L389.9 749.5 L391.3 749.5 L392.3 750.2" stroke-width="0.7"/>
<path d="M384.7 767 L383.7 766.7 L383 765.6 L382.8 764 L383.1 762 L383.8 759.7 L385 757.4 L386.3 755.2 L387.9 753.4 L389.5 752 L390.9 751.3 L392.2 751.3 L393 752" stroke-width="0.7"/>
<path d="M385.8 768.4 L384.7 768 L384 766.9 L383.8 765.2 L384.1 763 L384.9 760.5 L386.1 758 L387.6 755.6 L389.3 753.7 L391 752.2 L392.5 751.5 L393.9 751.5 L394.8 752.2" stroke-width="0.7"/>
<path d="M387.7 768.1 L386.7 767.8 L386.1 766.8 L385.9 765.3 L386.2 763.4 L386.9 761.2 L387.9 759 L389.2 757 L390.7 755.2 L392.2 754 L393.6 753.3 L394.7 753.3 L395.6 753.9" stroke-width="0.7"/>
<path d="M388.9 769.4 L387.8 769 L387.2 767.9 L387 766.3 L387.3 764.3 L388 762 L389.1 759.7 L390.5 757.5 L392.1 755.7 L393.7 754.4 L395.1 753.7 L396.4 753.6 L397.2 754.3" stroke-width="0.7"/>
<path d="M390.8 769.1 L389.9 768.7 L389.3 767.8 L389.2 766.4 L389.4 764.7 L390 762.7 L391 760.7 L392.2 758.8 L393.5 757.2 L394.9 756.1 L396.2 755.5 L397.2 755.5 L398 756.1" stroke-width="0.7"/>
<path d="M392.2 769.8 L391.3 769.5 L390.7 768.6 L390.6 767.2 L390.8 765.5 L391.4 763.5 L392.4 761.5 L393.6 759.6 L394.9 758 L396.3 756.9 L397.6 756.3 L398.6 756.3 L399.4 756.8" stroke-width="0.7"/>
<path d="M355.7 730.4 L356.4 732.1 L359.3 730.8 L360 732.6 L362.4 731.9 L363.1 733.6 L365.3 733.2 L366.1 734.9 L368.2 734.6 L368.9 736.4 L371 736.2 L371.7 738 L373.7 737.8 L374.5 739.6 L376.5 739.5 L377.2 741.2 L379.2 741.2 L379.9 742.9 L381.9 742.9 L382.6 744.6 L384.5 744.7 L385.2 746.4 L387.1 746.5 L387.9 748.2 L389.7 748.4 L390.5 750.1 L392.3 750.2 L393 752 L394.8 752.2 L395.6 753.9 L397.2 754.3 L398 756.1 L399.4 756.8" stroke-width="0.7"/>
<path d="M346.6 746.8 L348.5 746.5 L348.8 749.6 L350.7 749.3 L351.4 751.7 L353.3 751.4 L354.1 753.5 L355.9 753.2 L356.8 755.2 L358.7 754.9 L359.6 756.7 L361.5 756.4 L362.5 758.2 L364.3 757.9 L365.3 759.7 L367.2 759.4 L368.2 761 L370.1 760.7 L371.1 762.4 L372.9 762.1 L374 763.7 L375.8 763.4 L376.9 765 L378.8 764.7 L379.8 766.2 L381.7 765.9 L382.8 767.3 L384.7 767 L385.8 768.4 L387.7 768.1 L388.9 769.4 L390.8 769.1 L392.2 769.8" stroke-width="0.7"/>
<path d="M343.7 746.1 L342.8 745.8 L342.2 745.1 L341.8 743.9 L341.8 742.5 L342 740.7 L342.5 738.8 L343.3 736.8 L344.3 734.8 L345.5 732.8 L346.8 731.1 L348.2 729.6 L349.5 728.5 L350.8 727.8 L351.9 727.5 L352.9 727.6 L353.6 728.2" stroke-width="1.2"/>
<path d="M394 750.6 C394.7 751.3 397.1 753.3 398 755 C398.9 756.7 399.6 758.8 399.6 760.6 C399.6 762.4 399 764.5 398 766 C397 767.5 395.3 768.8 393.6 769.6 C391.9 770.4 388.6 770.6 387.6 770.8"/>
<path d="M395.6 762.4 L408.4 775.4"/>
<path d="M392 766 L405.2 780.6"/>
<ellipse cx="394" cy="764" rx="2.4" ry="3.6" transform="rotate(42 394 764)" stroke-width="1.5"/>
<line x1="397.6" y1="764.6" x2="394.6" y2="768.6"/>
<path d="M398.6 766 L403.4 770.8 L400.6 774.6 L395.8 769.6Z" stroke-width="1.4"/>
<path d="M399.2 768.2 L401.4 770.4 L400.2 772.2 L398 770Z" stroke-width="0.8"/>
<line x1="405.4" y1="772.4" x2="402.4" y2="776.6"/>
<path d="M408 775.2 L421.8 782 L422.6 784.6 L418.2 790.6 L416 791 L405.6 783.6 L405.2 781Z" stroke-width="1.1"/>
<line x1="411.6" y1="777" x2="408.4" y2="785.6"/>
<line x1="415" y1="778.6" x2="411.6" y2="787.8" stroke-width="1.3"/>
<line x1="418.6" y1="780.4" x2="414.8" y2="790"/>
<path d="M421.9 782.6 C422.6 783.3 424.8 785.4 426 787 C427.2 788.6 428.3 790.3 429.2 792.4 C430.1 794.5 430.8 797.2 431.6 799.6 C432.4 802 433.1 804.7 434 806.8 C434.9 808.9 435.8 810.4 437 812 C438.2 813.6 439.5 815.1 441.4 816.6 C443.3 818.1 445.4 820 448.6 821.2 C451.8 822.4 458.6 823.4 460.6 823.8"/>
<path d="M415.9 789.8 C416.6 790.5 418.8 792.4 420 794 C421.2 795.6 422.2 797.4 423.2 799.6 C424.2 801.8 425 804.6 426 807 C427 809.4 428.1 811.9 429.2 814 C430.3 816.1 431.4 818 432.6 819.6 C433.8 821.2 435 822.5 436.6 823.8 C438.2 825.1 440 826.2 442 827.2 C444 828.2 445.2 828 448.6 829.8 C452 831.6 460.3 836.6 462.6 838"/>
<line x1="429.2" y1="792.4" x2="423.2" y2="799.6"/>
<line x1="441.4" y1="816.6" x2="436.6" y2="823.8"/>
<path d="M449.6 821.6 C449.3 822.3 447.9 824.3 447.6 825.6 C447.3 826.9 447.9 828.9 448 829.6"/>
<ellipse cx="468.6" cy="832.2" rx="9.2" ry="9"/>
<path d="M477.1 831.8 L477 832.6 L476.5 833.5 L475.8 834.3 L474.8 835.1 L473.6 835.8 L472.3 836.4 L470.8 837 L469.2 837.4 L467.5 837.7 L465.9 837.8 L464.4 837.8 L463 837.6 L461.8 837.3 L460.8 836.8 L460.1 836.2 L459.7 835.5"/>
<path d="M476.4 835 L476.2 835.8 L475.8 836.5 L475.1 837.2 L474.2 837.9 L473.1 838.6 L471.9 839.1 L470.6 839.6 L469.2 840 L467.8 840.2 L466.4 840.3 L465 840.3 L463.8 840.2 L462.7 839.9 L461.8 839.5 L461.1 839 L460.7 838.4"/>
<path d="M461.1 830.8 L461.5 830.1 L462 829.3 L462.8 828.6 L463.7 828 L464.7 827.4 L465.8 826.9 L467 826.5 L468.2 826.2 L469.5 826 L470.8 825.9 L472 825.9 L473.2 826 L474.2 826.2 L475.2 826.5 L476 827 L476.7 827.5"/>
<ellipse cx="466" cy="827.1" rx="4.9" ry="3.4" transform="rotate(-12 466 827.1)" stroke-width="1.1"/>
<ellipse cx="466.2" cy="826.7" rx="3" ry="1.9" transform="rotate(-12 466.2 826.7)"/>
<path d="M464.2 826.5 L464.5 821.8 L465.1 817.4"/>
<path d="M468.4 826.5 L468.1 821.8 L467.6 817.4"/>
<path d="M465.1 817.4 L465.1 817.1 L465.2 816.9 L465.3 816.6 L465.4 816.4 L465.6 816.3 L465.8 816.2 L466.1 816.1 L466.3 816 L466.6 816.1 L466.8 816.2 L467 816.3 L467.2 816.4 L467.3 816.6 L467.5 816.9 L467.5 817.1 L467.6 817.4"/>
<line x1="464.4" y1="822.1" x2="465.4" y2="821.4"/>
</g>
<g class="lb">
<text x="317.5" y="80.6" textLength="53.5" lengthAdjust="spacingAndGlyphs">56517B</text>
<text x="303.3" y="124.9" textLength="52.5" lengthAdjust="spacingAndGlyphs">56516A</text>
<text x="301.8" y="160.5" textLength="41.6" lengthAdjust="spacingAndGlyphs">57714</text>
<text x="402.5" y="177" textLength="52.7" lengthAdjust="spacingAndGlyphs">56517A</text>
<text x="274" y="187" textLength="53.2" lengthAdjust="spacingAndGlyphs">56525B</text>
<text x="386.1" y="200.3" textLength="52.6" lengthAdjust="spacingAndGlyphs">57735B</text>
<text x="79.5" y="172.2" textLength="52.9" lengthAdjust="spacingAndGlyphs">56529D</text>
<text x="100.8" y="263.4" textLength="52.1" lengthAdjust="spacingAndGlyphs">56521B</text>
<text x="259.5" y="237.5" textLength="52.9" lengthAdjust="spacingAndGlyphs">57750B</text>
<text x="332.7" y="292.6" textLength="52.3" lengthAdjust="spacingAndGlyphs">56551A</text>
<text x="402.5" y="258.3" textLength="41.9" lengthAdjust="spacingAndGlyphs">57720</text>
<text x="429.5" y="242" textLength="42.2" lengthAdjust="spacingAndGlyphs">56523</text>
<text x="447.3" y="302.7" textLength="53" lengthAdjust="spacingAndGlyphs">57718A</text>
<text x="415.8" y="318.2" textLength="52.9" lengthAdjust="spacingAndGlyphs">56532B</text>
<text x="388.3" y="334.8" textLength="42.1" lengthAdjust="spacingAndGlyphs">57719</text>
<text x="415.8" y="357" textLength="41.7" lengthAdjust="spacingAndGlyphs">57774</text>
<text x="60.8" y="307.8" textLength="49.6" lengthAdjust="spacingAndGlyphs">56820J</text>
<text x="117" y="319.3" textLength="41.7" lengthAdjust="spacingAndGlyphs">57146</text>
<text x="131.3" y="397" textLength="53.3" lengthAdjust="spacingAndGlyphs">57729A</text>
<text x="217.2" y="356.8" textLength="41.6" lengthAdjust="spacingAndGlyphs">57722</text>
<text x="188.9" y="426.2" textLength="42" lengthAdjust="spacingAndGlyphs">57774</text>
<text x="262.9" y="394.4" textLength="42" lengthAdjust="spacingAndGlyphs">57724</text>
<text x="335.6" y="390.1" textLength="42.1" lengthAdjust="spacingAndGlyphs">57724</text>
<text x="377.5" y="420" textLength="41.9" lengthAdjust="spacingAndGlyphs">57722</text>
<text x="467.9" y="411" textLength="41.2" lengthAdjust="spacingAndGlyphs">57146</text>
<text x="448.1" y="472.9" textLength="53.3" lengthAdjust="spacingAndGlyphs">57729A</text>
<text x="494.6" y="527.8" textLength="53.3" lengthAdjust="spacingAndGlyphs">56820H</text>
<text x="408.2" y="547.5" textLength="52.8" lengthAdjust="spacingAndGlyphs">57710C</text>
<text x="118.9" y="470.6" textLength="53.1" lengthAdjust="spacingAndGlyphs">57260C</text>
<text x="62.2" y="538.6" textLength="52.5" lengthAdjust="spacingAndGlyphs">43777B</text>
<text x="55.8" y="555.5" textLength="55.1" lengthAdjust="spacingAndGlyphs">1022AA</text>
<text x="58.3" y="652.8" textLength="53.6" lengthAdjust="spacingAndGlyphs">1125AB</text>
<text x="163" y="706.4" textLength="48.7" lengthAdjust="spacingAndGlyphs">1123LZ</text>
<text x="163" y="722.4" textLength="53.9" lengthAdjust="spacingAndGlyphs">1124AE</text>
<text x="497.9" y="788.7" textLength="51.9" lengthAdjust="spacingAndGlyphs">43777B</text>
<text x="490.8" y="807.1" textLength="54.1" lengthAdjust="spacingAndGlyphs">1022AA</text>
</g>
<rect x="279" y="8" width="81" height="27.6" fill="#ff8787"/>
<line x1="311.7" y1="31" x2="311.7" y2="35.6" stroke="#7a2c2c" stroke-width="1"/>
<line x1="311.7" y1="35.6" x2="311.7" y2="45.5" stroke="#444" stroke-width="1"/>
<text x="287.2" y="25.7" textLength="53" lengthAdjust="spacingAndGlyphs" font-family="Liberation Sans, sans-serif" font-size="14.5" fill="#8b1a1a" stroke="#8b1a1a" stroke-width="0.2">56500B</text>
<rect x="0" y="848" width="620" height="62" fill="#666"/>
<g font-family="Liberation Sans, sans-serif" font-size="23" fill="#fff">
<text x="84.5" y="889.5" textLength="99" lengthAdjust="spacingAndGlyphs">HYUNDAI</text>
<text x="195.6" y="889.5" textLength="38.6" lengthAdjust="spacingAndGlyphs">KIA</text>
<text x="240" y="889.5" textLength="7" lengthAdjust="spacingAndGlyphs">-</text>
<text x="252.6" y="889.5" textLength="135.4" lengthAdjust="spacingAndGlyphs">565002T600</text>
<text x="417.6" y="889.5" textLength="17.5" lengthAdjust="spacingAndGlyphs">N</text>
<text x="441.5" y="889.5" textLength="7" lengthAdjust="spacingAndGlyphs">-</text>
<text x="453.8" y="889.5" textLength="82" lengthAdjust="spacingAndGlyphs">56500B</text>
</g>
</svg>
</body>
</html>
